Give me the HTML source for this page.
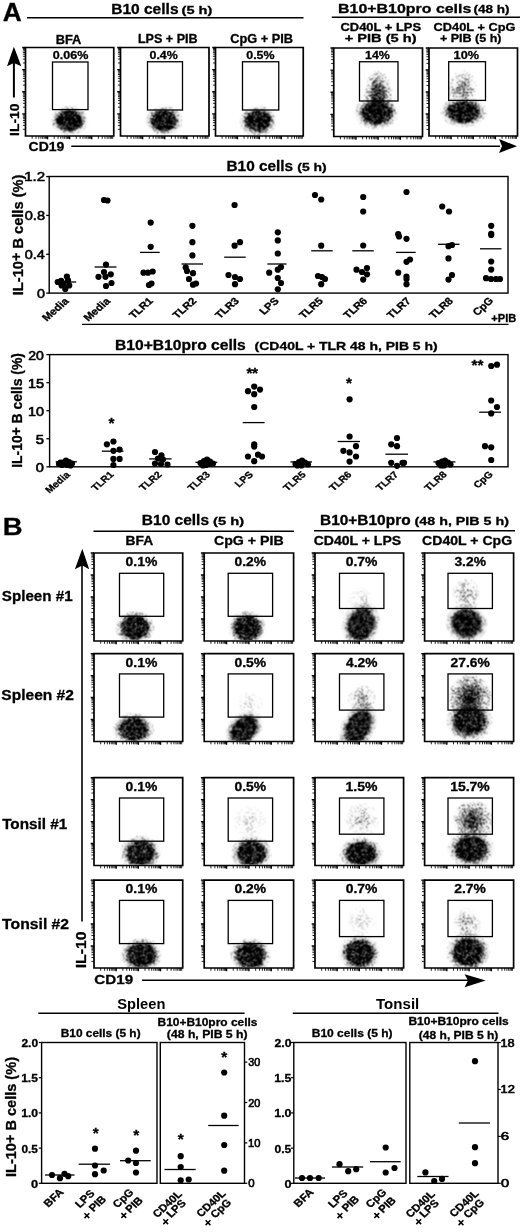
<!DOCTYPE html>
<html><head><meta charset="utf-8"><style>
html,body{margin:0;padding:0;background:#fff;width:520px;height:1232px;overflow:hidden}
svg{display:block;filter:grayscale(1)}
text{stroke:#000;stroke-width:0.3px;paint-order:stroke}
</style></head><body>
<svg width="520" height="1232" viewBox="0 0 520 1232" font-family="Liberation Sans, sans-serif"><rect width="520" height="1232" fill="#fff"/>
<text x="2.74" y="21.00" font-size="26.60" font-weight="bold" textLength="18.97" lengthAdjust="spacingAndGlyphs">A</text>
<text x="111.19" y="13.70" font-size="13.95" font-weight="bold" textLength="67.35" lengthAdjust="spacingAndGlyphs">B10 cells</text>
<text x="181.57" y="13.70" font-size="11.34" font-weight="bold" textLength="30.80" lengthAdjust="spacingAndGlyphs">(5 h)</text>
<line x1="27.00" y1="17.70" x2="303.50" y2="17.70" stroke="#000" stroke-width="1.4"/>
<text x="338.06" y="13.20" font-size="13.66" font-weight="bold" textLength="133.29" lengthAdjust="spacingAndGlyphs">B10+B10pro cells</text>
<text x="473.62" y="13.20" font-size="11.34" font-weight="bold" textLength="36.01" lengthAdjust="spacingAndGlyphs">(48 h)</text>
<line x1="331.80" y1="17.30" x2="520.00" y2="17.30" stroke="#000" stroke-width="1.4"/>
<text x="340.48" y="31.00" font-size="11.34" font-weight="bold" textLength="80.62" lengthAdjust="spacingAndGlyphs">CD40L + LPS</text>
<text x="344.72" y="42.00" font-size="11.34" font-weight="bold" textLength="71.88" lengthAdjust="spacingAndGlyphs">+ PIB (5 h)</text>
<text x="433.59" y="30.80" font-size="11.34" font-weight="bold" textLength="81.84" lengthAdjust="spacingAndGlyphs">CD40L + CpG</text>
<text x="440.00" y="42.00" font-size="11.34" font-weight="bold" textLength="61.50" lengthAdjust="spacingAndGlyphs">+ PIB (5 h)</text>
<text x="55.67" y="43.50" font-size="11.92" font-weight="bold" textLength="25.66" lengthAdjust="spacingAndGlyphs">BFA</text>
<text x="137.93" y="43.30" font-size="11.92" font-weight="bold" textLength="59.65" lengthAdjust="spacingAndGlyphs">LPS + PIB</text>
<text x="230.24" y="43.30" font-size="11.92" font-weight="bold" textLength="62.87" lengthAdjust="spacingAndGlyphs">CpG + PIB</text>
<path d="M25.50 47.50H113.75V136.00H25.50Z" fill="none" stroke="#000" stroke-width="1.7"/>
<path d="M22.20 113.88h3.3M22.20 91.75h3.3M22.20 69.62h3.3M47.56 136.00v3.3M69.62 136.00v3.3M91.69 136.00v3.3M22.20 47.50h3.3" stroke="#000" stroke-width="1.4" fill="none"/>
<path d="M22.90 129.34h2.6M22.90 125.44h2.6M22.90 122.68h2.6M22.90 120.54h2.6M22.90 118.78h2.6M22.90 117.30h2.6M22.90 116.02h2.6M22.90 114.89h2.6M22.90 107.21h2.6M22.90 103.32h2.6M22.90 100.55h2.6M22.90 98.41h2.6M22.90 96.66h2.6M22.90 95.18h2.6M22.90 93.89h2.6M22.90 92.76h2.6M22.90 85.09h2.6M22.90 81.19h2.6M22.90 78.43h2.6M22.90 76.29h2.6M22.90 74.53h2.6M22.90 73.05h2.6M22.90 71.77h2.6M22.90 70.64h2.6M22.90 62.96h2.6M22.90 59.07h2.6M22.90 56.30h2.6M22.90 54.16h2.6M22.90 52.41h2.6M22.90 50.93h2.6M22.90 49.64h2.6M22.90 48.51h2.6M32.14 136.00v2.8M36.03 136.00v2.8M38.78 136.00v2.8M40.92 136.00v2.8M42.67 136.00v2.8M44.14 136.00v2.8M45.42 136.00v2.8M46.55 136.00v2.8M54.20 136.00v2.8M58.09 136.00v2.8M60.85 136.00v2.8M62.98 136.00v2.8M64.73 136.00v2.8M66.21 136.00v2.8M67.49 136.00v2.8M68.62 136.00v2.8M76.27 136.00v2.8M80.15 136.00v2.8M82.91 136.00v2.8M85.05 136.00v2.8M86.79 136.00v2.8M88.27 136.00v2.8M89.55 136.00v2.8M90.68 136.00v2.8M98.33 136.00v2.8M102.21 136.00v2.8M104.97 136.00v2.8M107.11 136.00v2.8M108.86 136.00v2.8M110.33 136.00v2.8M111.61 136.00v2.8M112.74 136.00v2.8" stroke="#000" stroke-width="1" stroke-opacity="0.85" fill="none"/>
<rect x="52.50" y="62.00" width="35.50" height="47.60" fill="none" stroke="#000" stroke-width="1.3"/>
<text x="52.75" y="58.70" font-size="11.63" font-weight="bold" textLength="35.57" lengthAdjust="spacingAndGlyphs">0.06%</text>
<path d="M120.50 47.50H209.00V136.00H120.50Z" fill="none" stroke="#000" stroke-width="1.7"/>
<path d="M117.20 113.88h3.3M117.20 91.75h3.3M117.20 69.62h3.3M142.62 136.00v3.3M164.75 136.00v3.3M186.88 136.00v3.3M117.20 47.50h3.3" stroke="#000" stroke-width="1.4" fill="none"/>
<path d="M117.90 129.34h2.6M117.90 125.44h2.6M117.90 122.68h2.6M117.90 120.54h2.6M117.90 118.78h2.6M117.90 117.30h2.6M117.90 116.02h2.6M117.90 114.89h2.6M117.90 107.21h2.6M117.90 103.32h2.6M117.90 100.55h2.6M117.90 98.41h2.6M117.90 96.66h2.6M117.90 95.18h2.6M117.90 93.89h2.6M117.90 92.76h2.6M117.90 85.09h2.6M117.90 81.19h2.6M117.90 78.43h2.6M117.90 76.29h2.6M117.90 74.53h2.6M117.90 73.05h2.6M117.90 71.77h2.6M117.90 70.64h2.6M117.90 62.96h2.6M117.90 59.07h2.6M117.90 56.30h2.6M117.90 54.16h2.6M117.90 52.41h2.6M117.90 50.93h2.6M117.90 49.64h2.6M117.90 48.51h2.6M127.16 136.00v2.8M131.06 136.00v2.8M133.82 136.00v2.8M135.96 136.00v2.8M137.72 136.00v2.8M139.20 136.00v2.8M140.48 136.00v2.8M141.61 136.00v2.8M149.29 136.00v2.8M153.18 136.00v2.8M155.95 136.00v2.8M158.09 136.00v2.8M159.84 136.00v2.8M161.32 136.00v2.8M162.61 136.00v2.8M163.74 136.00v2.8M171.41 136.00v2.8M175.31 136.00v2.8M178.07 136.00v2.8M180.21 136.00v2.8M181.97 136.00v2.8M183.45 136.00v2.8M184.73 136.00v2.8M185.86 136.00v2.8M193.54 136.00v2.8M197.43 136.00v2.8M200.20 136.00v2.8M202.34 136.00v2.8M204.09 136.00v2.8M205.57 136.00v2.8M206.86 136.00v2.8M207.99 136.00v2.8" stroke="#000" stroke-width="1" stroke-opacity="0.85" fill="none"/>
<rect x="147.50" y="61.75" width="35.00" height="48.25" fill="none" stroke="#000" stroke-width="1.3"/>
<text x="149.50" y="58.70" font-size="11.63" font-weight="bold" textLength="28.30" lengthAdjust="spacingAndGlyphs">0.4%</text>
<path d="M215.50 47.50H303.25V136.00H215.50Z" fill="none" stroke="#000" stroke-width="1.7"/>
<path d="M212.20 113.88h3.3M212.20 91.75h3.3M212.20 69.62h3.3M237.44 136.00v3.3M259.38 136.00v3.3M281.31 136.00v3.3M212.20 47.50h3.3" stroke="#000" stroke-width="1.4" fill="none"/>
<path d="M212.90 129.34h2.6M212.90 125.44h2.6M212.90 122.68h2.6M212.90 120.54h2.6M212.90 118.78h2.6M212.90 117.30h2.6M212.90 116.02h2.6M212.90 114.89h2.6M212.90 107.21h2.6M212.90 103.32h2.6M212.90 100.55h2.6M212.90 98.41h2.6M212.90 96.66h2.6M212.90 95.18h2.6M212.90 93.89h2.6M212.90 92.76h2.6M212.90 85.09h2.6M212.90 81.19h2.6M212.90 78.43h2.6M212.90 76.29h2.6M212.90 74.53h2.6M212.90 73.05h2.6M212.90 71.77h2.6M212.90 70.64h2.6M212.90 62.96h2.6M212.90 59.07h2.6M212.90 56.30h2.6M212.90 54.16h2.6M212.90 52.41h2.6M212.90 50.93h2.6M212.90 49.64h2.6M212.90 48.51h2.6M222.10 136.00v2.8M225.97 136.00v2.8M228.71 136.00v2.8M230.83 136.00v2.8M232.57 136.00v2.8M234.04 136.00v2.8M235.31 136.00v2.8M236.43 136.00v2.8M244.04 136.00v2.8M247.90 136.00v2.8M250.65 136.00v2.8M252.77 136.00v2.8M254.51 136.00v2.8M255.98 136.00v2.8M257.25 136.00v2.8M258.37 136.00v2.8M265.98 136.00v2.8M269.84 136.00v2.8M272.58 136.00v2.8M274.71 136.00v2.8M276.45 136.00v2.8M277.91 136.00v2.8M279.19 136.00v2.8M280.31 136.00v2.8M287.92 136.00v2.8M291.78 136.00v2.8M294.52 136.00v2.8M296.65 136.00v2.8M298.38 136.00v2.8M299.85 136.00v2.8M301.12 136.00v2.8M302.25 136.00v2.8" stroke="#000" stroke-width="1" stroke-opacity="0.85" fill="none"/>
<rect x="242.50" y="61.75" width="36.25" height="48.25" fill="none" stroke="#000" stroke-width="1.3"/>
<text x="246.25" y="58.70" font-size="11.63" font-weight="bold" textLength="28.30" lengthAdjust="spacingAndGlyphs">0.5%</text>
<path d="M333.75 48.00H422.50V136.50H333.75Z" fill="none" stroke="#000" stroke-width="1.7"/>
<path d="M330.45 114.38h3.3M330.45 92.25h3.3M330.45 70.12h3.3M355.94 136.50v3.3M378.12 136.50v3.3M400.31 136.50v3.3M330.45 48.00h3.3" stroke="#000" stroke-width="1.4" fill="none"/>
<path d="M331.15 129.84h2.6M331.15 125.94h2.6M331.15 123.18h2.6M331.15 121.04h2.6M331.15 119.28h2.6M331.15 117.80h2.6M331.15 116.52h2.6M331.15 115.39h2.6M331.15 107.71h2.6M331.15 103.82h2.6M331.15 101.05h2.6M331.15 98.91h2.6M331.15 97.16h2.6M331.15 95.68h2.6M331.15 94.39h2.6M331.15 93.26h2.6M331.15 85.59h2.6M331.15 81.69h2.6M331.15 78.93h2.6M331.15 76.79h2.6M331.15 75.03h2.6M331.15 73.55h2.6M331.15 72.27h2.6M331.15 71.14h2.6M331.15 63.46h2.6M331.15 59.57h2.6M331.15 56.80h2.6M331.15 54.66h2.6M331.15 52.91h2.6M331.15 51.43h2.6M331.15 50.14h2.6M331.15 49.01h2.6M340.43 136.50v2.8M344.34 136.50v2.8M347.11 136.50v2.8M349.26 136.50v2.8M351.02 136.50v2.8M352.50 136.50v2.8M353.79 136.50v2.8M354.92 136.50v2.8M362.62 136.50v2.8M366.52 136.50v2.8M369.30 136.50v2.8M371.45 136.50v2.8M373.20 136.50v2.8M374.69 136.50v2.8M375.97 136.50v2.8M377.11 136.50v2.8M384.80 136.50v2.8M388.71 136.50v2.8M391.48 136.50v2.8M393.63 136.50v2.8M395.39 136.50v2.8M396.88 136.50v2.8M398.16 136.50v2.8M399.30 136.50v2.8M406.99 136.50v2.8M410.90 136.50v2.8M413.67 136.50v2.8M415.82 136.50v2.8M417.58 136.50v2.8M419.06 136.50v2.8M420.35 136.50v2.8M421.48 136.50v2.8" stroke="#000" stroke-width="1" stroke-opacity="0.85" fill="none"/>
<rect x="359.50" y="61.75" width="38.50" height="39.25" fill="none" stroke="#000" stroke-width="1.3"/>
<text x="365.01" y="58.70" font-size="11.63" font-weight="bold" textLength="24.82" lengthAdjust="spacingAndGlyphs">14%</text>
<path d="M429.00 48.00H517.50V136.00H429.00Z" fill="none" stroke="#000" stroke-width="1.7"/>
<path d="M425.70 114.00h3.3M425.70 92.00h3.3M425.70 70.00h3.3M451.12 136.00v3.3M473.25 136.00v3.3M495.38 136.00v3.3M425.70 48.00h3.3" stroke="#000" stroke-width="1.4" fill="none"/>
<path d="M426.40 129.38h2.6M426.40 125.50h2.6M426.40 122.75h2.6M426.40 120.62h2.6M426.40 118.88h2.6M426.40 117.41h2.6M426.40 116.13h2.6M426.40 115.01h2.6M426.40 107.38h2.6M426.40 103.50h2.6M426.40 100.75h2.6M426.40 98.62h2.6M426.40 96.88h2.6M426.40 95.41h2.6M426.40 94.13h2.6M426.40 93.01h2.6M426.40 85.38h2.6M426.40 81.50h2.6M426.40 78.75h2.6M426.40 76.62h2.6M426.40 74.88h2.6M426.40 73.41h2.6M426.40 72.13h2.6M426.40 71.01h2.6M426.40 63.38h2.6M426.40 59.50h2.6M426.40 56.75h2.6M426.40 54.62h2.6M426.40 52.88h2.6M426.40 51.41h2.6M426.40 50.13h2.6M426.40 49.01h2.6M435.66 136.00v2.8M439.56 136.00v2.8M442.32 136.00v2.8M444.46 136.00v2.8M446.22 136.00v2.8M447.70 136.00v2.8M448.98 136.00v2.8M450.11 136.00v2.8M457.79 136.00v2.8M461.68 136.00v2.8M464.45 136.00v2.8M466.59 136.00v2.8M468.34 136.00v2.8M469.82 136.00v2.8M471.11 136.00v2.8M472.24 136.00v2.8M479.91 136.00v2.8M483.81 136.00v2.8M486.57 136.00v2.8M488.71 136.00v2.8M490.47 136.00v2.8M491.95 136.00v2.8M493.23 136.00v2.8M494.36 136.00v2.8M502.04 136.00v2.8M505.93 136.00v2.8M508.70 136.00v2.8M510.84 136.00v2.8M512.59 136.00v2.8M514.07 136.00v2.8M515.36 136.00v2.8M516.49 136.00v2.8" stroke="#000" stroke-width="1" stroke-opacity="0.85" fill="none"/>
<rect x="448.70" y="61.70" width="36.80" height="38.70" fill="none" stroke="#000" stroke-width="1.3"/>
<text x="453.64" y="58.70" font-size="11.63" font-weight="bold" textLength="25.45" lengthAdjust="spacingAndGlyphs">10%</text>
<filter id="spk" x="-10%" y="-10%" width="120%" height="120%" color-interpolation-filters="sRGB">
<feTurbulence type="fractalNoise" baseFrequency="1.1" numOctaves="2" seed="4" result="n"/>
<feColorMatrix in="n" type="matrix" values="0 0 0 0 0  0 0 0 0 0  0 0 0 0 0  3 0 0 0 -1" result="na"/>
<feComposite in="SourceAlpha" in2="na" operator="arithmetic" k1="0" k2="4" k3="-4" k4="0" result="t"/>
<feComposite in="t" in2="SourceAlpha" operator="arithmetic" k1="0" k2="0.8" k3="0.3" k4="0" result="t2"/>
<feColorMatrix in="t2" type="matrix" values="0 0 0 0 0  0 0 0 0 0  0 0 0 0 0  0 0 0 1 0" result="b"/>
<feConvolveMatrix in="b" order="3" kernelMatrix="1 2 1 2 4 2 1 2 1"/>
</filter>
<filter id="spk2" x="-10%" y="-10%" width="120%" height="120%" color-interpolation-filters="sRGB">
<feTurbulence type="fractalNoise" baseFrequency="0.93" numOctaves="2" seed="9" result="n"/>
<feColorMatrix in="n" type="matrix" values="0 0 0 0 0  0 0 0 0 0  0 0 0 0 0  3 0 0 0 -1" result="na"/>
<feComposite in="SourceAlpha" in2="na" operator="arithmetic" k1="0" k2="5" k3="-5" k4="0" result="t"/>
<feComposite in="t" in2="SourceAlpha" operator="arithmetic" k1="0" k2="0.85" k3="0.15" k4="0" result="t2"/>
<feColorMatrix in="t2" type="matrix" values="0 0 0 0 0  0 0 0 0 0  0 0 0 0 0  0 0 0 1 0" result="b"/>
<feConvolveMatrix in="b" order="3" kernelMatrix="1 2 1 2 4 2 1 2 1"/>
</filter>
<radialGradient id="rg0"><stop offset="0.0" stop-opacity="1.000"/><stop offset="0.1" stop-opacity="1.000"/><stop offset="0.2" stop-opacity="1.000"/><stop offset="0.3" stop-opacity="1.000"/><stop offset="0.4" stop-opacity="1.000"/><stop offset="0.5" stop-opacity="1.000"/><stop offset="0.6" stop-opacity="1.000"/><stop offset="0.7" stop-opacity="0.606"/><stop offset="0.8" stop-opacity="0.309"/><stop offset="0.9" stop-opacity="0.144"/><stop offset="1.0" stop-opacity="0.061"/></radialGradient>
<clipPath id="c43"><rect x="26.30" y="48.30" width="86.65" height="86.90"/></clipPath>
<g clip-path="url(#c43)"><ellipse cx="69.50" cy="120.50" rx="18.70" ry="14.90" fill="url(#rg0)" filter="url(#spk)"/></g>
<clipPath id="c45"><rect x="121.30" y="48.30" width="86.90" height="86.90"/></clipPath>
<g clip-path="url(#c45)"><ellipse cx="164.00" cy="120.50" rx="18.70" ry="14.90" fill="url(#rg0)" filter="url(#spk)"/></g>
<clipPath id="c47"><rect x="216.30" y="48.30" width="86.15" height="86.90"/></clipPath>
<g clip-path="url(#c47)"><ellipse cx="258.00" cy="121.00" rx="18.70" ry="15.40" fill="url(#rg0)" filter="url(#spk)"/></g>
<radialGradient id="rg1"><stop offset="0.0" stop-opacity="1.000"/><stop offset="0.1" stop-opacity="1.000"/><stop offset="0.2" stop-opacity="0.999"/><stop offset="0.3" stop-opacity="0.886"/><stop offset="0.4" stop-opacity="0.749"/><stop offset="0.5" stop-opacity="0.604"/><stop offset="0.6" stop-opacity="0.464"/><stop offset="0.7" stop-opacity="0.339"/><stop offset="0.8" stop-opacity="0.237"/><stop offset="0.9" stop-opacity="0.157"/><stop offset="1.0" stop-opacity="0.100"/></radialGradient>
<clipPath id="c50"><rect x="334.55" y="48.80" width="87.15" height="86.90"/></clipPath>
<g clip-path="url(#c50)"><ellipse cx="378.00" cy="95.00" rx="14.00" ry="24.00" fill="url(#rg1)" filter="url(#spk2)"/></g>
<clipPath id="c52"><rect x="334.55" y="48.80" width="87.15" height="86.90"/></clipPath>
<g clip-path="url(#c52)"><ellipse cx="376.50" cy="113.00" rx="22.00" ry="16.50" fill="url(#rg0)" filter="url(#spk)"/></g>
<radialGradient id="rg2"><stop offset="0.0" stop-opacity="0.550"/><stop offset="0.1" stop-opacity="0.538"/><stop offset="0.2" stop-opacity="0.504"/><stop offset="0.3" stop-opacity="0.451"/><stop offset="0.4" stop-opacity="0.387"/><stop offset="0.5" stop-opacity="0.317"/><stop offset="0.6" stop-opacity="0.249"/><stop offset="0.7" stop-opacity="0.187"/><stop offset="0.8" stop-opacity="0.135"/><stop offset="0.9" stop-opacity="0.093"/><stop offset="1.0" stop-opacity="0.061"/></radialGradient>
<clipPath id="c55"><rect x="429.80" y="48.80" width="86.90" height="86.40"/></clipPath>
<g clip-path="url(#c55)"><ellipse cx="463.00" cy="89.00" rx="14.00" ry="19.00" fill="url(#rg2)" filter="url(#spk2)"/></g>
<clipPath id="c57"><rect x="429.80" y="48.80" width="86.90" height="86.40"/></clipPath>
<g clip-path="url(#c57)"><ellipse cx="463.50" cy="112.00" rx="23.10" ry="15.40" fill="url(#rg0)" filter="url(#spk)"/></g>
<line x1="13.90" y1="62.00" x2="13.90" y2="97.50" stroke="#000" stroke-width="2"/>
<path d="M7 66.3 L13.9 46.7 L21.3 66.3 L13.9 63 Z" fill="#000"/>
<text transform="translate(18.50,135.00) rotate(-90)" x="-0.90" y="0" font-size="13.52" font-weight="bold" textLength="32.45" lengthAdjust="spacingAndGlyphs">IL-10</text>
<text x="28.64" y="150.80" font-size="12.79" font-weight="bold" textLength="35.77" lengthAdjust="spacingAndGlyphs">CD19</text>
<line x1="71.30" y1="146.20" x2="500.00" y2="146.20" stroke="#000" stroke-width="1.6"/>
<path d="M499 139 L517 146.2 L499 153 L502 146.2 Z" fill="#000"/>
<rect x="49.20" y="176.50" width="458.80" height="116.60" fill="none" stroke="#000" stroke-width="1.4"/>
<line x1="46.20" y1="293.10" x2="49.20" y2="293.10" stroke="#000" stroke-width="1.3"/>
<text x="36.92" y="297.90" font-size="13.66" font-weight="normal" textLength="7.99" lengthAdjust="spacingAndGlyphs" style="stroke-width:0.6">0</text>
<line x1="46.20" y1="254.26" x2="49.20" y2="254.26" stroke="#000" stroke-width="1.3"/>
<text x="24.72" y="259.06" font-size="13.66" font-weight="normal" textLength="20.12" lengthAdjust="spacingAndGlyphs" style="stroke-width:0.6">0.4</text>
<line x1="46.20" y1="215.42" x2="49.20" y2="215.42" stroke="#000" stroke-width="1.3"/>
<text x="24.72" y="220.22" font-size="13.66" font-weight="normal" textLength="20.27" lengthAdjust="spacingAndGlyphs" style="stroke-width:0.6">0.8</text>
<line x1="46.20" y1="176.58" x2="49.20" y2="176.58" stroke="#000" stroke-width="1.3"/>
<text x="24.17" y="181.38" font-size="13.66" font-weight="normal" textLength="20.99" lengthAdjust="spacingAndGlyphs" style="stroke-width:0.6">1.2</text>
<text x="226.50" y="171.40" font-size="14.97" font-weight="bold" textLength="66.64" lengthAdjust="spacingAndGlyphs">B10 cells</text>
<text x="297.31" y="171.30" font-size="11.34" font-weight="bold" textLength="29.33" lengthAdjust="spacingAndGlyphs">(5 h)</text>
<text transform="translate(22.5,295.2) rotate(-90)" font-size="14.2" font-weight="bold" textLength="120.6" lengthAdjust="spacingAndGlyphs">IL-10<tspan font-size="14" dy="-1.8">+</tspan><tspan dy="1.8"> B cells (%)</tspan></text>
<circle cx="57.70" cy="282.00" r="3.1"/>
<circle cx="61.20" cy="280.80" r="3.1"/>
<circle cx="66.90" cy="276.60" r="3.1"/>
<circle cx="68.00" cy="280.30" r="3.1"/>
<circle cx="63.50" cy="283.50" r="3.1"/>
<circle cx="69.20" cy="285.40" r="3.1"/>
<circle cx="65.30" cy="288.90" r="3.1"/>
<circle cx="61.60" cy="285.40" r="3.1"/>
<line x1="55.40" y1="282.00" x2="76.20" y2="282.00" stroke="#000" stroke-width="1.3"/>
<circle cx="104.00" cy="200.00" r="3.1"/>
<circle cx="107.50" cy="200.50" r="3.1"/>
<circle cx="106.00" cy="264.60" r="3.1"/>
<circle cx="98.50" cy="276.80" r="3.1"/>
<circle cx="105.50" cy="276.80" r="3.1"/>
<circle cx="110.80" cy="274.30" r="3.1"/>
<circle cx="111.50" cy="283.00" r="3.1"/>
<circle cx="106.00" cy="286.00" r="3.1"/>
<circle cx="104.00" cy="272.00" r="3.1"/>
<line x1="94.60" y1="267.00" x2="116.50" y2="267.00" stroke="#000" stroke-width="1.3"/>
<circle cx="150.70" cy="222.60" r="3.1"/>
<circle cx="150.70" cy="246.80" r="3.1"/>
<circle cx="143.50" cy="272.70" r="3.1"/>
<circle cx="148.00" cy="272.70" r="3.1"/>
<circle cx="152.70" cy="271.50" r="3.1"/>
<circle cx="151.50" cy="283.50" r="3.1"/>
<circle cx="149.00" cy="285.00" r="3.1"/>
<line x1="140.00" y1="252.40" x2="159.70" y2="252.40" stroke="#000" stroke-width="1.3"/>
<circle cx="192.40" cy="225.80" r="3.1"/>
<circle cx="192.40" cy="242.20" r="3.1"/>
<circle cx="192.40" cy="255.40" r="3.1"/>
<circle cx="185.70" cy="267.40" r="3.1"/>
<circle cx="187.00" cy="271.00" r="3.1"/>
<circle cx="193.00" cy="273.20" r="3.1"/>
<circle cx="189.00" cy="279.00" r="3.1"/>
<circle cx="193.00" cy="284.70" r="3.1"/>
<circle cx="196.00" cy="283.50" r="3.1"/>
<line x1="181.50" y1="264.00" x2="203.00" y2="264.00" stroke="#000" stroke-width="1.3"/>
<circle cx="234.60" cy="205.00" r="3.1"/>
<circle cx="240.00" cy="242.20" r="3.1"/>
<circle cx="234.60" cy="245.70" r="3.1"/>
<circle cx="228.50" cy="275.00" r="3.1"/>
<circle cx="235.00" cy="277.00" r="3.1"/>
<circle cx="240.00" cy="279.00" r="3.1"/>
<circle cx="235.00" cy="284.20" r="3.1"/>
<line x1="224.20" y1="257.20" x2="245.70" y2="257.20" stroke="#000" stroke-width="1.3"/>
<circle cx="277.80" cy="232.30" r="3.1"/>
<circle cx="277.80" cy="240.40" r="3.1"/>
<circle cx="277.80" cy="253.50" r="3.1"/>
<circle cx="269.20" cy="272.70" r="3.1"/>
<circle cx="277.80" cy="269.70" r="3.1"/>
<circle cx="281.00" cy="267.00" r="3.1"/>
<circle cx="277.80" cy="278.00" r="3.1"/>
<circle cx="281.00" cy="283.00" r="3.1"/>
<circle cx="277.80" cy="289.30" r="3.1"/>
<line x1="267.40" y1="264.00" x2="286.50" y2="264.00" stroke="#000" stroke-width="1.3"/>
<circle cx="315.00" cy="195.00" r="3.1"/>
<circle cx="321.20" cy="199.50" r="3.1"/>
<circle cx="321.20" cy="245.70" r="3.1"/>
<circle cx="318.00" cy="276.00" r="3.1"/>
<circle cx="322.00" cy="277.00" r="3.1"/>
<circle cx="325.00" cy="279.00" r="3.1"/>
<circle cx="321.20" cy="284.20" r="3.1"/>
<line x1="311.20" y1="250.80" x2="332.70" y2="250.80" stroke="#000" stroke-width="1.3"/>
<circle cx="363.20" cy="197.00" r="3.1"/>
<circle cx="363.20" cy="211.50" r="3.1"/>
<circle cx="363.20" cy="245.50" r="3.1"/>
<circle cx="356.50" cy="269.70" r="3.1"/>
<circle cx="362.00" cy="272.00" r="3.1"/>
<circle cx="367.00" cy="268.00" r="3.1"/>
<circle cx="367.00" cy="274.30" r="3.1"/>
<circle cx="363.20" cy="279.60" r="3.1"/>
<line x1="352.30" y1="250.80" x2="373.80" y2="250.80" stroke="#000" stroke-width="1.3"/>
<circle cx="406.50" cy="192.00" r="3.1"/>
<circle cx="398.20" cy="234.20" r="3.1"/>
<circle cx="399.00" cy="236.50" r="3.1"/>
<circle cx="406.50" cy="238.80" r="3.1"/>
<circle cx="406.50" cy="261.80" r="3.1"/>
<circle cx="410.00" cy="259.50" r="3.1"/>
<circle cx="398.20" cy="272.70" r="3.1"/>
<circle cx="406.50" cy="276.60" r="3.1"/>
<circle cx="406.50" cy="279.00" r="3.1"/>
<circle cx="406.50" cy="284.20" r="3.1"/>
<line x1="396.00" y1="252.40" x2="415.70" y2="252.40" stroke="#000" stroke-width="1.3"/>
<circle cx="442.20" cy="206.50" r="3.1"/>
<circle cx="449.00" cy="211.50" r="3.1"/>
<circle cx="448.50" cy="246.20" r="3.1"/>
<circle cx="452.00" cy="245.00" r="3.1"/>
<circle cx="448.50" cy="258.40" r="3.1"/>
<circle cx="452.00" cy="275.00" r="3.1"/>
<circle cx="448.50" cy="279.60" r="3.1"/>
<line x1="438.00" y1="244.30" x2="459.50" y2="244.30" stroke="#000" stroke-width="1.3"/>
<circle cx="491.20" cy="225.80" r="3.1"/>
<circle cx="491.20" cy="233.80" r="3.1"/>
<circle cx="491.20" cy="235.00" r="3.1"/>
<circle cx="491.20" cy="261.50" r="3.1"/>
<circle cx="491.20" cy="269.60" r="3.1"/>
<circle cx="486.00" cy="278.20" r="3.1"/>
<circle cx="491.00" cy="279.00" r="3.1"/>
<circle cx="496.00" cy="279.00" r="3.1"/>
<circle cx="500.00" cy="279.00" r="3.1"/>
<line x1="480.00" y1="248.80" x2="501.50" y2="248.80" stroke="#000" stroke-width="1.3"/>
<text transform="translate(69.40,301.75) scale(1.13,1) rotate(-45)" x="-28.45" y="0" font-size="10.00" font-weight="bold" textLength="28.34" lengthAdjust="spacingAndGlyphs">Media</text>
<text transform="translate(110.90,301.75) scale(1.13,1) rotate(-45)" x="-28.45" y="0" font-size="10.00" font-weight="bold" textLength="28.34" lengthAdjust="spacingAndGlyphs">Media</text>
<text transform="translate(153.50,301.75) scale(1.13,1) rotate(-45)" x="-24.75" y="0" font-size="10.00" font-weight="bold" textLength="25.00" lengthAdjust="spacingAndGlyphs">TLR1</text>
<text transform="translate(196.80,301.75) scale(1.13,1) rotate(-45)" x="-24.60" y="0" font-size="10.00" font-weight="bold" textLength="25.00" lengthAdjust="spacingAndGlyphs">TLR2</text>
<text transform="translate(239.40,301.75) scale(1.13,1) rotate(-45)" x="-24.65" y="0" font-size="10.00" font-weight="bold" textLength="25.00" lengthAdjust="spacingAndGlyphs">TLR3</text>
<text transform="translate(279.20,301.75) scale(1.13,1) rotate(-45)" x="-19.10" y="0" font-size="10.00" font-weight="bold" textLength="19.45" lengthAdjust="spacingAndGlyphs">LPS</text>
<text transform="translate(323.50,301.75) scale(1.13,1) rotate(-45)" x="-24.75" y="0" font-size="10.00" font-weight="bold" textLength="25.00" lengthAdjust="spacingAndGlyphs">TLR5</text>
<text transform="translate(367.70,301.75) scale(1.13,1) rotate(-45)" x="-24.65" y="0" font-size="10.00" font-weight="bold" textLength="25.00" lengthAdjust="spacingAndGlyphs">TLR6</text>
<text transform="translate(411.20,301.75) scale(1.13,1) rotate(-45)" x="-24.60" y="0" font-size="10.00" font-weight="bold" textLength="25.00" lengthAdjust="spacingAndGlyphs">TLR7</text>
<text transform="translate(453.40,301.75) scale(1.13,1) rotate(-45)" x="-24.70" y="0" font-size="10.00" font-weight="bold" textLength="25.00" lengthAdjust="spacingAndGlyphs">TLR8</text>
<text transform="translate(493.50,301.75) scale(1.13,1) rotate(-45)" x="-20.50" y="0" font-size="10.00" font-weight="bold" textLength="21.11" lengthAdjust="spacingAndGlyphs">CpG</text>
<line x1="82.00" y1="324.30" x2="508.50" y2="324.30" stroke="#000" stroke-width="1.3"/>
<text x="491.36" y="321.50" font-size="10.17" font-weight="bold" textLength="24.95" lengthAdjust="spacingAndGlyphs">+PIB</text>
<rect x="49.60" y="354.60" width="458.40" height="112.20" fill="none" stroke="#000" stroke-width="1.4"/>
<line x1="46.40" y1="466.80" x2="49.60" y2="466.80" stroke="#000" stroke-width="1.3"/>
<text x="35.82" y="472.40" font-size="12.50" font-weight="normal" textLength="8.11" lengthAdjust="spacingAndGlyphs" style="stroke-width:0.6">0</text>
<line x1="46.40" y1="438.75" x2="49.60" y2="438.75" stroke="#000" stroke-width="1.3"/>
<text x="35.81" y="444.35" font-size="12.50" font-weight="normal" textLength="8.20" lengthAdjust="spacingAndGlyphs" style="stroke-width:0.6">5</text>
<line x1="46.40" y1="410.70" x2="49.60" y2="410.70" stroke="#000" stroke-width="1.3"/>
<text x="27.92" y="416.30" font-size="12.50" font-weight="normal" textLength="16.02" lengthAdjust="spacingAndGlyphs" style="stroke-width:0.6">10</text>
<line x1="46.40" y1="382.65" x2="49.60" y2="382.65" stroke="#000" stroke-width="1.3"/>
<text x="27.91" y="388.25" font-size="12.50" font-weight="normal" textLength="16.10" lengthAdjust="spacingAndGlyphs" style="stroke-width:0.6">15</text>
<line x1="46.40" y1="354.60" x2="49.60" y2="354.60" stroke="#000" stroke-width="1.3"/>
<text x="28.30" y="360.20" font-size="12.50" font-weight="normal" textLength="15.63" lengthAdjust="spacingAndGlyphs" style="stroke-width:0.6">20</text>
<text x="114.98" y="350.00" font-size="14.53" font-weight="bold" textLength="130.86" lengthAdjust="spacingAndGlyphs">B10+B10pro cells</text>
<text x="254.60" y="350.00" font-size="11.34" font-weight="bold" textLength="183.07" lengthAdjust="spacingAndGlyphs">(CD40L + TLR 48 h, PIB 5 h)</text>
<text transform="translate(22.4,467.8) rotate(-90)" font-size="14.2" font-weight="bold" textLength="114.8" lengthAdjust="spacingAndGlyphs">IL-10<tspan font-size="14" dy="-1.8">+</tspan><tspan dy="1.8"> B cells (%)</tspan></text>
<circle cx="59.00" cy="464.00" r="3.1"/>
<circle cx="63.00" cy="462.50" r="3.1"/>
<circle cx="66.00" cy="460.50" r="3.1"/>
<circle cx="69.00" cy="462.00" r="3.1"/>
<circle cx="72.00" cy="463.50" r="3.1"/>
<circle cx="62.00" cy="465.00" r="3.1"/>
<circle cx="67.00" cy="465.00" r="3.1"/>
<circle cx="70.50" cy="465.50" r="3.1"/>
<circle cx="60.50" cy="462.50" r="3.1"/>
<line x1="55.70" y1="461.80" x2="76.90" y2="461.80" stroke="#000" stroke-width="1.3"/>
<circle cx="106.90" cy="444.30" r="3.1"/>
<circle cx="113.40" cy="441.50" r="3.1"/>
<circle cx="113.40" cy="450.80" r="3.1"/>
<circle cx="119.60" cy="449.60" r="3.1"/>
<circle cx="113.40" cy="458.90" r="3.1"/>
<circle cx="119.60" cy="458.90" r="3.1"/>
<circle cx="113.40" cy="465.00" r="3.1"/>
<line x1="101.80" y1="451.20" x2="123.50" y2="451.20" stroke="#000" stroke-width="1.3"/>
<circle cx="155.00" cy="452.00" r="3.1"/>
<circle cx="161.50" cy="455.40" r="3.1"/>
<circle cx="158.00" cy="458.50" r="3.1"/>
<circle cx="163.00" cy="459.50" r="3.1"/>
<circle cx="155.00" cy="463.50" r="3.1"/>
<circle cx="161.00" cy="464.00" r="3.1"/>
<circle cx="167.50" cy="464.50" r="3.1"/>
<line x1="149.20" y1="458.90" x2="171.60" y2="458.90" stroke="#000" stroke-width="1.3"/>
<circle cx="200.50" cy="463.00" r="3.1"/>
<circle cx="204.00" cy="461.00" r="3.1"/>
<circle cx="207.00" cy="459.50" r="3.1"/>
<circle cx="210.00" cy="461.50" r="3.1"/>
<circle cx="213.00" cy="463.50" r="3.1"/>
<circle cx="206.00" cy="465.00" r="3.1"/>
<circle cx="203.00" cy="465.50" r="3.1"/>
<circle cx="209.50" cy="464.00" r="3.1"/>
<line x1="195.40" y1="462.30" x2="217.30" y2="462.30" stroke="#000" stroke-width="1.3"/>
<circle cx="248.00" cy="391.20" r="3.1"/>
<circle cx="254.20" cy="386.60" r="3.1"/>
<circle cx="254.20" cy="394.20" r="3.1"/>
<circle cx="260.00" cy="389.60" r="3.1"/>
<circle cx="254.20" cy="407.00" r="3.1"/>
<circle cx="254.20" cy="444.30" r="3.1"/>
<circle cx="254.20" cy="446.60" r="3.1"/>
<circle cx="248.00" cy="456.50" r="3.1"/>
<circle cx="254.20" cy="461.20" r="3.1"/>
<circle cx="258.00" cy="454.70" r="3.1"/>
<circle cx="262.00" cy="456.50" r="3.1"/>
<line x1="242.70" y1="422.60" x2="264.60" y2="422.60" stroke="#000" stroke-width="1.3"/>
<circle cx="295.50" cy="464.00" r="3.1"/>
<circle cx="299.00" cy="462.00" r="3.1"/>
<circle cx="302.00" cy="460.50" r="3.1"/>
<circle cx="305.00" cy="462.50" r="3.1"/>
<circle cx="308.00" cy="464.50" r="3.1"/>
<circle cx="301.50" cy="465.50" r="3.1"/>
<circle cx="297.50" cy="465.50" r="3.1"/>
<line x1="290.50" y1="461.90" x2="312.00" y2="461.90" stroke="#000" stroke-width="1.3"/>
<circle cx="349.60" cy="399.30" r="3.1"/>
<circle cx="349.60" cy="436.50" r="3.1"/>
<circle cx="343.40" cy="450.80" r="3.1"/>
<circle cx="349.60" cy="452.40" r="3.1"/>
<circle cx="356.00" cy="446.20" r="3.1"/>
<circle cx="356.00" cy="456.50" r="3.1"/>
<circle cx="349.60" cy="461.60" r="3.1"/>
<line x1="337.60" y1="441.50" x2="360.00" y2="441.50" stroke="#000" stroke-width="1.3"/>
<circle cx="397.00" cy="438.00" r="3.1"/>
<circle cx="391.20" cy="444.30" r="3.1"/>
<circle cx="397.00" cy="446.20" r="3.1"/>
<circle cx="391.20" cy="462.80" r="3.1"/>
<circle cx="397.00" cy="465.80" r="3.1"/>
<circle cx="402.50" cy="462.80" r="3.1"/>
<circle cx="404.00" cy="462.80" r="3.1"/>
<line x1="385.40" y1="454.20" x2="408.00" y2="454.20" stroke="#000" stroke-width="1.3"/>
<circle cx="438.50" cy="463.00" r="3.1"/>
<circle cx="442.00" cy="461.50" r="3.1"/>
<circle cx="445.00" cy="460.50" r="3.1"/>
<circle cx="448.00" cy="462.50" r="3.1"/>
<circle cx="450.50" cy="464.50" r="3.1"/>
<circle cx="444.00" cy="465.50" r="3.1"/>
<circle cx="441.00" cy="465.50" r="3.1"/>
<line x1="433.50" y1="461.90" x2="455.40" y2="461.90" stroke="#000" stroke-width="1.3"/>
<circle cx="491.20" cy="366.00" r="3.1"/>
<circle cx="497.00" cy="364.70" r="3.1"/>
<circle cx="491.20" cy="400.50" r="3.1"/>
<circle cx="497.00" cy="407.00" r="3.1"/>
<circle cx="491.20" cy="413.40" r="3.1"/>
<circle cx="485.00" cy="446.20" r="3.1"/>
<circle cx="491.20" cy="447.30" r="3.1"/>
<circle cx="491.20" cy="460.00" r="3.1"/>
<line x1="479.20" y1="412.20" x2="501.00" y2="412.20" stroke="#000" stroke-width="1.3"/>
<text transform="translate(70.70,475.35) scale(1.15,1) rotate(-45)" x="-26.17" y="0" font-size="9.20" font-weight="bold" textLength="26.07" lengthAdjust="spacingAndGlyphs">Media</text>
<text transform="translate(114.20,475.35) scale(1.15,1) rotate(-45)" x="-22.77" y="0" font-size="9.20" font-weight="bold" textLength="23.00" lengthAdjust="spacingAndGlyphs">TLR1</text>
<text transform="translate(162.00,475.35) scale(1.15,1) rotate(-45)" x="-22.63" y="0" font-size="9.20" font-weight="bold" textLength="23.00" lengthAdjust="spacingAndGlyphs">TLR2</text>
<text transform="translate(210.40,475.35) scale(1.15,1) rotate(-45)" x="-22.68" y="0" font-size="9.20" font-weight="bold" textLength="23.00" lengthAdjust="spacingAndGlyphs">TLR3</text>
<text transform="translate(253.40,475.35) scale(1.15,1) rotate(-45)" x="-17.57" y="0" font-size="9.20" font-weight="bold" textLength="17.89" lengthAdjust="spacingAndGlyphs">LPS</text>
<text transform="translate(306.10,475.35) scale(1.15,1) rotate(-45)" x="-22.77" y="0" font-size="9.20" font-weight="bold" textLength="23.00" lengthAdjust="spacingAndGlyphs">TLR5</text>
<text transform="translate(352.00,475.35) scale(1.15,1) rotate(-45)" x="-22.68" y="0" font-size="9.20" font-weight="bold" textLength="23.00" lengthAdjust="spacingAndGlyphs">TLR6</text>
<text transform="translate(398.70,475.35) scale(1.15,1) rotate(-45)" x="-22.63" y="0" font-size="9.20" font-weight="bold" textLength="23.00" lengthAdjust="spacingAndGlyphs">TLR7</text>
<text transform="translate(447.20,475.35) scale(1.15,1) rotate(-45)" x="-22.72" y="0" font-size="9.20" font-weight="bold" textLength="23.00" lengthAdjust="spacingAndGlyphs">TLR8</text>
<text transform="translate(493.00,475.35) scale(1.15,1) rotate(-45)" x="-18.86" y="0" font-size="9.20" font-weight="bold" textLength="19.42" lengthAdjust="spacingAndGlyphs">CpG</text>
<text x="111.50" y="427.85" font-size="15.40" font-weight="bold" text-anchor="middle">*</text>
<text x="249.50" y="377.85" font-size="15.40" font-weight="bold" text-anchor="middle">*</text>
<text x="255.00" y="377.85" font-size="15.40" font-weight="bold" text-anchor="middle">*</text>
<text x="349.00" y="388.15" font-size="15.40" font-weight="bold" text-anchor="middle">*</text>
<text x="474.50" y="369.65" font-size="15.40" font-weight="bold" text-anchor="middle">*</text>
<text x="480.50" y="369.65" font-size="15.40" font-weight="bold" text-anchor="middle">*</text>
<text x="2.72" y="535.00" font-size="24.71" font-weight="bold" textLength="19.83" lengthAdjust="spacingAndGlyphs">B</text>
<text x="141.89" y="525.20" font-size="14.53" font-weight="bold" textLength="67.15" lengthAdjust="spacingAndGlyphs">B10 cells</text>
<text x="213.07" y="525.20" font-size="11.63" font-weight="bold" textLength="31.01" lengthAdjust="spacingAndGlyphs">(5 h)</text>
<line x1="93.50" y1="531.20" x2="294.00" y2="531.20" stroke="#000" stroke-width="1.4"/>
<text x="320.00" y="524.70" font-size="13.95" font-weight="bold" textLength="90.61" lengthAdjust="spacingAndGlyphs">B10+B10pro</text>
<text x="414.59" y="524.90" font-size="11.63" font-weight="bold" textLength="94.39" lengthAdjust="spacingAndGlyphs">(48 h, PIB 5 h)</text>
<line x1="314.00" y1="530.70" x2="515.00" y2="530.70" stroke="#000" stroke-width="1.4"/>
<text x="125.60" y="544.80" font-size="12.21" font-weight="bold" textLength="27.54" lengthAdjust="spacingAndGlyphs">BFA</text>
<text x="213.93" y="544.80" font-size="12.21" font-weight="bold" textLength="69.74" lengthAdjust="spacingAndGlyphs">CpG + PIB</text>
<text x="313.74" y="544.80" font-size="12.21" font-weight="bold" textLength="87.41" lengthAdjust="spacingAndGlyphs">CD40L + LPS</text>
<text x="422.14" y="544.80" font-size="12.21" font-weight="bold" textLength="89.98" lengthAdjust="spacingAndGlyphs">CD40L + CpG</text>
<text x="1.84" y="601.20" font-size="15.26" font-weight="bold" textLength="70.82" lengthAdjust="spacingAndGlyphs">Spleen #1</text>
<text x="1.33" y="700.00" font-size="15.26" font-weight="bold" textLength="72.57" lengthAdjust="spacingAndGlyphs">Spleen #2</text>
<text x="2.15" y="829.20" font-size="15.26" font-weight="bold" textLength="65.24" lengthAdjust="spacingAndGlyphs">Tonsil #1</text>
<text x="2.14" y="929.20" font-size="15.26" font-weight="bold" textLength="66.99" lengthAdjust="spacingAndGlyphs">Tonsil #2</text>
<path d="M94.00 553.00H182.70V641.00H94.00Z" fill="none" stroke="#000" stroke-width="1.7"/>
<path d="M90.70 619.00h3.3M90.70 597.00h3.3M90.70 575.00h3.3M116.17 641.00v3.3M138.35 641.00v3.3M160.52 641.00v3.3M90.70 553.00h3.3" stroke="#000" stroke-width="1.4" fill="none"/>
<path d="M91.40 634.38h2.6M91.40 630.50h2.6M91.40 627.75h2.6M91.40 625.62h2.6M91.40 623.88h2.6M91.40 622.41h2.6M91.40 621.13h2.6M91.40 620.01h2.6M91.40 612.38h2.6M91.40 608.50h2.6M91.40 605.75h2.6M91.40 603.62h2.6M91.40 601.88h2.6M91.40 600.41h2.6M91.40 599.13h2.6M91.40 598.01h2.6M91.40 590.38h2.6M91.40 586.50h2.6M91.40 583.75h2.6M91.40 581.62h2.6M91.40 579.88h2.6M91.40 578.41h2.6M91.40 577.13h2.6M91.40 576.01h2.6M91.40 568.38h2.6M91.40 564.50h2.6M91.40 561.75h2.6M91.40 559.62h2.6M91.40 557.88h2.6M91.40 556.41h2.6M91.40 555.13h2.6M91.40 554.01h2.6M100.68 641.00v2.8M104.58 641.00v2.8M107.35 641.00v2.8M109.50 641.00v2.8M111.26 641.00v2.8M112.74 641.00v2.8M114.03 641.00v2.8M115.16 641.00v2.8M122.85 641.00v2.8M126.76 641.00v2.8M129.53 641.00v2.8M131.67 641.00v2.8M133.43 641.00v2.8M134.92 641.00v2.8M136.20 641.00v2.8M137.34 641.00v2.8M145.03 641.00v2.8M148.93 641.00v2.8M151.70 641.00v2.8M153.85 641.00v2.8M155.61 641.00v2.8M157.09 641.00v2.8M158.38 641.00v2.8M159.51 641.00v2.8M167.20 641.00v2.8M171.11 641.00v2.8M173.88 641.00v2.8M176.02 641.00v2.8M177.78 641.00v2.8M179.27 641.00v2.8M180.55 641.00v2.8M181.69 641.00v2.8" stroke="#000" stroke-width="1" stroke-opacity="0.85" fill="none"/>
<rect x="119.50" y="573.30" width="44.20" height="43.00" fill="none" stroke="#000" stroke-width="1.3"/>
<text x="125.64" y="566.30" font-size="12.79" font-weight="bold" textLength="31.69" lengthAdjust="spacingAndGlyphs">0.1%</text>
<path d="M204.20 553.00H293.60V641.00H204.20Z" fill="none" stroke="#000" stroke-width="1.7"/>
<path d="M200.90 619.00h3.3M200.90 597.00h3.3M200.90 575.00h3.3M226.55 641.00v3.3M248.90 641.00v3.3M271.25 641.00v3.3M200.90 553.00h3.3" stroke="#000" stroke-width="1.4" fill="none"/>
<path d="M201.60 634.38h2.6M201.60 630.50h2.6M201.60 627.75h2.6M201.60 625.62h2.6M201.60 623.88h2.6M201.60 622.41h2.6M201.60 621.13h2.6M201.60 620.01h2.6M201.60 612.38h2.6M201.60 608.50h2.6M201.60 605.75h2.6M201.60 603.62h2.6M201.60 601.88h2.6M201.60 600.41h2.6M201.60 599.13h2.6M201.60 598.01h2.6M201.60 590.38h2.6M201.60 586.50h2.6M201.60 583.75h2.6M201.60 581.62h2.6M201.60 579.88h2.6M201.60 578.41h2.6M201.60 577.13h2.6M201.60 576.01h2.6M201.60 568.38h2.6M201.60 564.50h2.6M201.60 561.75h2.6M201.60 559.62h2.6M201.60 557.88h2.6M201.60 556.41h2.6M201.60 555.13h2.6M201.60 554.01h2.6M210.93 641.00v2.8M214.86 641.00v2.8M217.66 641.00v2.8M219.82 641.00v2.8M221.59 641.00v2.8M223.09 641.00v2.8M224.38 641.00v2.8M225.53 641.00v2.8M233.28 641.00v2.8M237.21 641.00v2.8M240.01 641.00v2.8M242.17 641.00v2.8M243.94 641.00v2.8M245.44 641.00v2.8M246.73 641.00v2.8M247.88 641.00v2.8M255.63 641.00v2.8M259.56 641.00v2.8M262.36 641.00v2.8M264.52 641.00v2.8M266.29 641.00v2.8M267.79 641.00v2.8M269.08 641.00v2.8M270.23 641.00v2.8M277.98 641.00v2.8M281.91 641.00v2.8M284.71 641.00v2.8M286.87 641.00v2.8M288.64 641.00v2.8M290.14 641.00v2.8M291.43 641.00v2.8M292.58 641.00v2.8" stroke="#000" stroke-width="1" stroke-opacity="0.85" fill="none"/>
<rect x="228.20" y="573.30" width="44.40" height="43.00" fill="none" stroke="#000" stroke-width="1.3"/>
<text x="234.44" y="566.30" font-size="12.79" font-weight="bold" textLength="31.69" lengthAdjust="spacingAndGlyphs">0.2%</text>
<path d="M315.00 553.00H403.60V641.00H315.00Z" fill="none" stroke="#000" stroke-width="1.7"/>
<path d="M311.70 619.00h3.3M311.70 597.00h3.3M311.70 575.00h3.3M337.15 641.00v3.3M359.30 641.00v3.3M381.45 641.00v3.3M311.70 553.00h3.3" stroke="#000" stroke-width="1.4" fill="none"/>
<path d="M312.40 634.38h2.6M312.40 630.50h2.6M312.40 627.75h2.6M312.40 625.62h2.6M312.40 623.88h2.6M312.40 622.41h2.6M312.40 621.13h2.6M312.40 620.01h2.6M312.40 612.38h2.6M312.40 608.50h2.6M312.40 605.75h2.6M312.40 603.62h2.6M312.40 601.88h2.6M312.40 600.41h2.6M312.40 599.13h2.6M312.40 598.01h2.6M312.40 590.38h2.6M312.40 586.50h2.6M312.40 583.75h2.6M312.40 581.62h2.6M312.40 579.88h2.6M312.40 578.41h2.6M312.40 577.13h2.6M312.40 576.01h2.6M312.40 568.38h2.6M312.40 564.50h2.6M312.40 561.75h2.6M312.40 559.62h2.6M312.40 557.88h2.6M312.40 556.41h2.6M312.40 555.13h2.6M312.40 554.01h2.6M321.67 641.00v2.8M325.57 641.00v2.8M328.34 641.00v2.8M330.48 641.00v2.8M332.24 641.00v2.8M333.72 641.00v2.8M335.00 641.00v2.8M336.14 641.00v2.8M343.82 641.00v2.8M347.72 641.00v2.8M350.49 641.00v2.8M352.63 641.00v2.8M354.39 641.00v2.8M355.87 641.00v2.8M357.15 641.00v2.8M358.29 641.00v2.8M365.97 641.00v2.8M369.87 641.00v2.8M372.64 641.00v2.8M374.78 641.00v2.8M376.54 641.00v2.8M378.02 641.00v2.8M379.30 641.00v2.8M380.44 641.00v2.8M388.12 641.00v2.8M392.02 641.00v2.8M394.79 641.00v2.8M396.93 641.00v2.8M398.69 641.00v2.8M400.17 641.00v2.8M401.45 641.00v2.8M402.59 641.00v2.8" stroke="#000" stroke-width="1" stroke-opacity="0.85" fill="none"/>
<rect x="339.50" y="573.30" width="44.40" height="35.20" fill="none" stroke="#000" stroke-width="1.3"/>
<text x="345.74" y="566.30" font-size="12.79" font-weight="bold" textLength="31.69" lengthAdjust="spacingAndGlyphs">0.7%</text>
<path d="M424.60 553.00H513.60V641.00H424.60Z" fill="none" stroke="#000" stroke-width="1.7"/>
<path d="M421.30 619.00h3.3M421.30 597.00h3.3M421.30 575.00h3.3M446.85 641.00v3.3M469.10 641.00v3.3M491.35 641.00v3.3M421.30 553.00h3.3" stroke="#000" stroke-width="1.4" fill="none"/>
<path d="M422.00 634.38h2.6M422.00 630.50h2.6M422.00 627.75h2.6M422.00 625.62h2.6M422.00 623.88h2.6M422.00 622.41h2.6M422.00 621.13h2.6M422.00 620.01h2.6M422.00 612.38h2.6M422.00 608.50h2.6M422.00 605.75h2.6M422.00 603.62h2.6M422.00 601.88h2.6M422.00 600.41h2.6M422.00 599.13h2.6M422.00 598.01h2.6M422.00 590.38h2.6M422.00 586.50h2.6M422.00 583.75h2.6M422.00 581.62h2.6M422.00 579.88h2.6M422.00 578.41h2.6M422.00 577.13h2.6M422.00 576.01h2.6M422.00 568.38h2.6M422.00 564.50h2.6M422.00 561.75h2.6M422.00 559.62h2.6M422.00 557.88h2.6M422.00 556.41h2.6M422.00 555.13h2.6M422.00 554.01h2.6M431.30 641.00v2.8M435.22 641.00v2.8M438.00 641.00v2.8M440.15 641.00v2.8M441.91 641.00v2.8M443.40 641.00v2.8M444.69 641.00v2.8M445.83 641.00v2.8M453.55 641.00v2.8M457.47 641.00v2.8M460.25 641.00v2.8M462.40 641.00v2.8M464.16 641.00v2.8M465.65 641.00v2.8M466.94 641.00v2.8M468.08 641.00v2.8M475.80 641.00v2.8M479.72 641.00v2.8M482.50 641.00v2.8M484.65 641.00v2.8M486.41 641.00v2.8M487.90 641.00v2.8M489.19 641.00v2.8M490.33 641.00v2.8M498.05 641.00v2.8M501.97 641.00v2.8M504.75 641.00v2.8M506.90 641.00v2.8M508.66 641.00v2.8M510.15 641.00v2.8M511.44 641.00v2.8M512.58 641.00v2.8" stroke="#000" stroke-width="1" stroke-opacity="0.85" fill="none"/>
<rect x="448.00" y="573.30" width="44.40" height="35.20" fill="none" stroke="#000" stroke-width="1.3"/>
<text x="454.45" y="566.30" font-size="12.79" font-weight="bold" textLength="31.48" lengthAdjust="spacingAndGlyphs">3.2%</text>
<path d="M94.00 653.60H182.70V741.50H94.00Z" fill="none" stroke="#000" stroke-width="1.7"/>
<path d="M90.70 719.52h3.3M90.70 697.55h3.3M90.70 675.58h3.3M116.17 741.50v3.3M138.35 741.50v3.3M160.52 741.50v3.3M90.70 653.60h3.3" stroke="#000" stroke-width="1.4" fill="none"/>
<path d="M91.40 734.88h2.6M91.40 731.02h2.6M91.40 728.27h2.6M91.40 726.14h2.6M91.40 724.40h2.6M91.40 722.93h2.6M91.40 721.65h2.6M91.40 720.53h2.6M91.40 712.91h2.6M91.40 709.04h2.6M91.40 706.29h2.6M91.40 704.17h2.6M91.40 702.43h2.6M91.40 700.95h2.6M91.40 699.68h2.6M91.40 698.56h2.6M91.40 690.93h2.6M91.40 687.07h2.6M91.40 684.32h2.6M91.40 682.19h2.6M91.40 680.45h2.6M91.40 678.98h2.6M91.40 677.70h2.6M91.40 676.58h2.6M91.40 668.96h2.6M91.40 665.09h2.6M91.40 662.34h2.6M91.40 660.22h2.6M91.40 658.48h2.6M91.40 657.00h2.6M91.40 655.73h2.6M91.40 654.61h2.6M100.68 741.50v2.8M104.58 741.50v2.8M107.35 741.50v2.8M109.50 741.50v2.8M111.26 741.50v2.8M112.74 741.50v2.8M114.03 741.50v2.8M115.16 741.50v2.8M122.85 741.50v2.8M126.76 741.50v2.8M129.53 741.50v2.8M131.67 741.50v2.8M133.43 741.50v2.8M134.92 741.50v2.8M136.20 741.50v2.8M137.34 741.50v2.8M145.03 741.50v2.8M148.93 741.50v2.8M151.70 741.50v2.8M153.85 741.50v2.8M155.61 741.50v2.8M157.09 741.50v2.8M158.38 741.50v2.8M159.51 741.50v2.8M167.20 741.50v2.8M171.11 741.50v2.8M173.88 741.50v2.8M176.02 741.50v2.8M177.78 741.50v2.8M179.27 741.50v2.8M180.55 741.50v2.8M181.69 741.50v2.8" stroke="#000" stroke-width="1" stroke-opacity="0.85" fill="none"/>
<rect x="119.50" y="673.90" width="44.20" height="43.20" fill="none" stroke="#000" stroke-width="1.3"/>
<text x="125.64" y="666.90" font-size="12.79" font-weight="bold" textLength="31.69" lengthAdjust="spacingAndGlyphs">0.1%</text>
<path d="M204.20 653.60H293.60V741.50H204.20Z" fill="none" stroke="#000" stroke-width="1.7"/>
<path d="M200.90 719.52h3.3M200.90 697.55h3.3M200.90 675.58h3.3M226.55 741.50v3.3M248.90 741.50v3.3M271.25 741.50v3.3M200.90 653.60h3.3" stroke="#000" stroke-width="1.4" fill="none"/>
<path d="M201.60 734.88h2.6M201.60 731.02h2.6M201.60 728.27h2.6M201.60 726.14h2.6M201.60 724.40h2.6M201.60 722.93h2.6M201.60 721.65h2.6M201.60 720.53h2.6M201.60 712.91h2.6M201.60 709.04h2.6M201.60 706.29h2.6M201.60 704.17h2.6M201.60 702.43h2.6M201.60 700.95h2.6M201.60 699.68h2.6M201.60 698.56h2.6M201.60 690.93h2.6M201.60 687.07h2.6M201.60 684.32h2.6M201.60 682.19h2.6M201.60 680.45h2.6M201.60 678.98h2.6M201.60 677.70h2.6M201.60 676.58h2.6M201.60 668.96h2.6M201.60 665.09h2.6M201.60 662.34h2.6M201.60 660.22h2.6M201.60 658.48h2.6M201.60 657.00h2.6M201.60 655.73h2.6M201.60 654.61h2.6M210.93 741.50v2.8M214.86 741.50v2.8M217.66 741.50v2.8M219.82 741.50v2.8M221.59 741.50v2.8M223.09 741.50v2.8M224.38 741.50v2.8M225.53 741.50v2.8M233.28 741.50v2.8M237.21 741.50v2.8M240.01 741.50v2.8M242.17 741.50v2.8M243.94 741.50v2.8M245.44 741.50v2.8M246.73 741.50v2.8M247.88 741.50v2.8M255.63 741.50v2.8M259.56 741.50v2.8M262.36 741.50v2.8M264.52 741.50v2.8M266.29 741.50v2.8M267.79 741.50v2.8M269.08 741.50v2.8M270.23 741.50v2.8M277.98 741.50v2.8M281.91 741.50v2.8M284.71 741.50v2.8M286.87 741.50v2.8M288.64 741.50v2.8M290.14 741.50v2.8M291.43 741.50v2.8M292.58 741.50v2.8" stroke="#000" stroke-width="1" stroke-opacity="0.85" fill="none"/>
<rect x="228.20" y="673.90" width="44.40" height="43.20" fill="none" stroke="#000" stroke-width="1.3"/>
<text x="234.44" y="666.90" font-size="12.79" font-weight="bold" textLength="31.69" lengthAdjust="spacingAndGlyphs">0.5%</text>
<path d="M315.00 653.60H403.60V741.50H315.00Z" fill="none" stroke="#000" stroke-width="1.7"/>
<path d="M311.70 719.52h3.3M311.70 697.55h3.3M311.70 675.58h3.3M337.15 741.50v3.3M359.30 741.50v3.3M381.45 741.50v3.3M311.70 653.60h3.3" stroke="#000" stroke-width="1.4" fill="none"/>
<path d="M312.40 734.88h2.6M312.40 731.02h2.6M312.40 728.27h2.6M312.40 726.14h2.6M312.40 724.40h2.6M312.40 722.93h2.6M312.40 721.65h2.6M312.40 720.53h2.6M312.40 712.91h2.6M312.40 709.04h2.6M312.40 706.29h2.6M312.40 704.17h2.6M312.40 702.43h2.6M312.40 700.95h2.6M312.40 699.68h2.6M312.40 698.56h2.6M312.40 690.93h2.6M312.40 687.07h2.6M312.40 684.32h2.6M312.40 682.19h2.6M312.40 680.45h2.6M312.40 678.98h2.6M312.40 677.70h2.6M312.40 676.58h2.6M312.40 668.96h2.6M312.40 665.09h2.6M312.40 662.34h2.6M312.40 660.22h2.6M312.40 658.48h2.6M312.40 657.00h2.6M312.40 655.73h2.6M312.40 654.61h2.6M321.67 741.50v2.8M325.57 741.50v2.8M328.34 741.50v2.8M330.48 741.50v2.8M332.24 741.50v2.8M333.72 741.50v2.8M335.00 741.50v2.8M336.14 741.50v2.8M343.82 741.50v2.8M347.72 741.50v2.8M350.49 741.50v2.8M352.63 741.50v2.8M354.39 741.50v2.8M355.87 741.50v2.8M357.15 741.50v2.8M358.29 741.50v2.8M365.97 741.50v2.8M369.87 741.50v2.8M372.64 741.50v2.8M374.78 741.50v2.8M376.54 741.50v2.8M378.02 741.50v2.8M379.30 741.50v2.8M380.44 741.50v2.8M388.12 741.50v2.8M392.02 741.50v2.8M394.79 741.50v2.8M396.93 741.50v2.8M398.69 741.50v2.8M400.17 741.50v2.8M401.45 741.50v2.8M402.59 741.50v2.8" stroke="#000" stroke-width="1" stroke-opacity="0.85" fill="none"/>
<rect x="339.50" y="673.90" width="44.40" height="36.20" fill="none" stroke="#000" stroke-width="1.3"/>
<text x="346.09" y="666.90" font-size="12.79" font-weight="bold" textLength="31.34" lengthAdjust="spacingAndGlyphs">4.2%</text>
<path d="M424.60 653.60H513.60V741.50H424.60Z" fill="none" stroke="#000" stroke-width="1.7"/>
<path d="M421.30 719.52h3.3M421.30 697.55h3.3M421.30 675.58h3.3M446.85 741.50v3.3M469.10 741.50v3.3M491.35 741.50v3.3M421.30 653.60h3.3" stroke="#000" stroke-width="1.4" fill="none"/>
<path d="M422.00 734.88h2.6M422.00 731.02h2.6M422.00 728.27h2.6M422.00 726.14h2.6M422.00 724.40h2.6M422.00 722.93h2.6M422.00 721.65h2.6M422.00 720.53h2.6M422.00 712.91h2.6M422.00 709.04h2.6M422.00 706.29h2.6M422.00 704.17h2.6M422.00 702.43h2.6M422.00 700.95h2.6M422.00 699.68h2.6M422.00 698.56h2.6M422.00 690.93h2.6M422.00 687.07h2.6M422.00 684.32h2.6M422.00 682.19h2.6M422.00 680.45h2.6M422.00 678.98h2.6M422.00 677.70h2.6M422.00 676.58h2.6M422.00 668.96h2.6M422.00 665.09h2.6M422.00 662.34h2.6M422.00 660.22h2.6M422.00 658.48h2.6M422.00 657.00h2.6M422.00 655.73h2.6M422.00 654.61h2.6M431.30 741.50v2.8M435.22 741.50v2.8M438.00 741.50v2.8M440.15 741.50v2.8M441.91 741.50v2.8M443.40 741.50v2.8M444.69 741.50v2.8M445.83 741.50v2.8M453.55 741.50v2.8M457.47 741.50v2.8M460.25 741.50v2.8M462.40 741.50v2.8M464.16 741.50v2.8M465.65 741.50v2.8M466.94 741.50v2.8M468.08 741.50v2.8M475.80 741.50v2.8M479.72 741.50v2.8M482.50 741.50v2.8M484.65 741.50v2.8M486.41 741.50v2.8M487.90 741.50v2.8M489.19 741.50v2.8M490.33 741.50v2.8M498.05 741.50v2.8M501.97 741.50v2.8M504.75 741.50v2.8M506.90 741.50v2.8M508.66 741.50v2.8M510.15 741.50v2.8M511.44 741.50v2.8M512.58 741.50v2.8" stroke="#000" stroke-width="1" stroke-opacity="0.85" fill="none"/>
<rect x="448.00" y="673.90" width="44.40" height="36.20" fill="none" stroke="#000" stroke-width="1.3"/>
<text x="450.52" y="666.90" font-size="12.79" font-weight="bold" textLength="39.24" lengthAdjust="spacingAndGlyphs">27.6%</text>
<path d="M94.00 777.70H182.70V865.50H94.00Z" fill="none" stroke="#000" stroke-width="1.7"/>
<path d="M90.70 843.55h3.3M90.70 821.60h3.3M90.70 799.65h3.3M116.17 865.50v3.3M138.35 865.50v3.3M160.52 865.50v3.3M90.70 777.70h3.3" stroke="#000" stroke-width="1.4" fill="none"/>
<path d="M91.40 858.89h2.6M91.40 855.03h2.6M91.40 852.28h2.6M91.40 850.16h2.6M91.40 848.42h2.6M91.40 846.95h2.6M91.40 845.68h2.6M91.40 844.55h2.6M91.40 836.94h2.6M91.40 833.08h2.6M91.40 830.33h2.6M91.40 828.21h2.6M91.40 826.47h2.6M91.40 825.00h2.6M91.40 823.73h2.6M91.40 822.60h2.6M91.40 814.99h2.6M91.40 811.13h2.6M91.40 808.38h2.6M91.40 806.26h2.6M91.40 804.52h2.6M91.40 803.05h2.6M91.40 801.78h2.6M91.40 800.65h2.6M91.40 793.04h2.6M91.40 789.18h2.6M91.40 786.43h2.6M91.40 784.31h2.6M91.40 782.57h2.6M91.40 781.10h2.6M91.40 779.83h2.6M91.40 778.70h2.6M100.68 865.50v2.8M104.58 865.50v2.8M107.35 865.50v2.8M109.50 865.50v2.8M111.26 865.50v2.8M112.74 865.50v2.8M114.03 865.50v2.8M115.16 865.50v2.8M122.85 865.50v2.8M126.76 865.50v2.8M129.53 865.50v2.8M131.67 865.50v2.8M133.43 865.50v2.8M134.92 865.50v2.8M136.20 865.50v2.8M137.34 865.50v2.8M145.03 865.50v2.8M148.93 865.50v2.8M151.70 865.50v2.8M153.85 865.50v2.8M155.61 865.50v2.8M157.09 865.50v2.8M158.38 865.50v2.8M159.51 865.50v2.8M167.20 865.50v2.8M171.11 865.50v2.8M173.88 865.50v2.8M176.02 865.50v2.8M177.78 865.50v2.8M179.27 865.50v2.8M180.55 865.50v2.8M181.69 865.50v2.8" stroke="#000" stroke-width="1" stroke-opacity="0.85" fill="none"/>
<rect x="119.50" y="798.00" width="44.20" height="43.20" fill="none" stroke="#000" stroke-width="1.3"/>
<text x="125.64" y="791.00" font-size="12.79" font-weight="bold" textLength="31.69" lengthAdjust="spacingAndGlyphs">0.1%</text>
<path d="M204.20 777.70H293.60V865.50H204.20Z" fill="none" stroke="#000" stroke-width="1.7"/>
<path d="M200.90 843.55h3.3M200.90 821.60h3.3M200.90 799.65h3.3M226.55 865.50v3.3M248.90 865.50v3.3M271.25 865.50v3.3M200.90 777.70h3.3" stroke="#000" stroke-width="1.4" fill="none"/>
<path d="M201.60 858.89h2.6M201.60 855.03h2.6M201.60 852.28h2.6M201.60 850.16h2.6M201.60 848.42h2.6M201.60 846.95h2.6M201.60 845.68h2.6M201.60 844.55h2.6M201.60 836.94h2.6M201.60 833.08h2.6M201.60 830.33h2.6M201.60 828.21h2.6M201.60 826.47h2.6M201.60 825.00h2.6M201.60 823.73h2.6M201.60 822.60h2.6M201.60 814.99h2.6M201.60 811.13h2.6M201.60 808.38h2.6M201.60 806.26h2.6M201.60 804.52h2.6M201.60 803.05h2.6M201.60 801.78h2.6M201.60 800.65h2.6M201.60 793.04h2.6M201.60 789.18h2.6M201.60 786.43h2.6M201.60 784.31h2.6M201.60 782.57h2.6M201.60 781.10h2.6M201.60 779.83h2.6M201.60 778.70h2.6M210.93 865.50v2.8M214.86 865.50v2.8M217.66 865.50v2.8M219.82 865.50v2.8M221.59 865.50v2.8M223.09 865.50v2.8M224.38 865.50v2.8M225.53 865.50v2.8M233.28 865.50v2.8M237.21 865.50v2.8M240.01 865.50v2.8M242.17 865.50v2.8M243.94 865.50v2.8M245.44 865.50v2.8M246.73 865.50v2.8M247.88 865.50v2.8M255.63 865.50v2.8M259.56 865.50v2.8M262.36 865.50v2.8M264.52 865.50v2.8M266.29 865.50v2.8M267.79 865.50v2.8M269.08 865.50v2.8M270.23 865.50v2.8M277.98 865.50v2.8M281.91 865.50v2.8M284.71 865.50v2.8M286.87 865.50v2.8M288.64 865.50v2.8M290.14 865.50v2.8M291.43 865.50v2.8M292.58 865.50v2.8" stroke="#000" stroke-width="1" stroke-opacity="0.85" fill="none"/>
<rect x="228.20" y="798.00" width="44.40" height="43.20" fill="none" stroke="#000" stroke-width="1.3"/>
<text x="234.44" y="791.00" font-size="12.79" font-weight="bold" textLength="31.69" lengthAdjust="spacingAndGlyphs">0.5%</text>
<path d="M315.00 777.70H403.60V865.50H315.00Z" fill="none" stroke="#000" stroke-width="1.7"/>
<path d="M311.70 843.55h3.3M311.70 821.60h3.3M311.70 799.65h3.3M337.15 865.50v3.3M359.30 865.50v3.3M381.45 865.50v3.3M311.70 777.70h3.3" stroke="#000" stroke-width="1.4" fill="none"/>
<path d="M312.40 858.89h2.6M312.40 855.03h2.6M312.40 852.28h2.6M312.40 850.16h2.6M312.40 848.42h2.6M312.40 846.95h2.6M312.40 845.68h2.6M312.40 844.55h2.6M312.40 836.94h2.6M312.40 833.08h2.6M312.40 830.33h2.6M312.40 828.21h2.6M312.40 826.47h2.6M312.40 825.00h2.6M312.40 823.73h2.6M312.40 822.60h2.6M312.40 814.99h2.6M312.40 811.13h2.6M312.40 808.38h2.6M312.40 806.26h2.6M312.40 804.52h2.6M312.40 803.05h2.6M312.40 801.78h2.6M312.40 800.65h2.6M312.40 793.04h2.6M312.40 789.18h2.6M312.40 786.43h2.6M312.40 784.31h2.6M312.40 782.57h2.6M312.40 781.10h2.6M312.40 779.83h2.6M312.40 778.70h2.6M321.67 865.50v2.8M325.57 865.50v2.8M328.34 865.50v2.8M330.48 865.50v2.8M332.24 865.50v2.8M333.72 865.50v2.8M335.00 865.50v2.8M336.14 865.50v2.8M343.82 865.50v2.8M347.72 865.50v2.8M350.49 865.50v2.8M352.63 865.50v2.8M354.39 865.50v2.8M355.87 865.50v2.8M357.15 865.50v2.8M358.29 865.50v2.8M365.97 865.50v2.8M369.87 865.50v2.8M372.64 865.50v2.8M374.78 865.50v2.8M376.54 865.50v2.8M378.02 865.50v2.8M379.30 865.50v2.8M380.44 865.50v2.8M388.12 865.50v2.8M392.02 865.50v2.8M394.79 865.50v2.8M396.93 865.50v2.8M398.69 865.50v2.8M400.17 865.50v2.8M401.45 865.50v2.8M402.59 865.50v2.8" stroke="#000" stroke-width="1" stroke-opacity="0.85" fill="none"/>
<rect x="339.50" y="798.00" width="44.40" height="36.20" fill="none" stroke="#000" stroke-width="1.3"/>
<text x="345.46" y="791.00" font-size="12.79" font-weight="bold" textLength="31.98" lengthAdjust="spacingAndGlyphs">1.5%</text>
<path d="M424.60 777.70H513.60V865.50H424.60Z" fill="none" stroke="#000" stroke-width="1.7"/>
<path d="M421.30 843.55h3.3M421.30 821.60h3.3M421.30 799.65h3.3M446.85 865.50v3.3M469.10 865.50v3.3M491.35 865.50v3.3M421.30 777.70h3.3" stroke="#000" stroke-width="1.4" fill="none"/>
<path d="M422.00 858.89h2.6M422.00 855.03h2.6M422.00 852.28h2.6M422.00 850.16h2.6M422.00 848.42h2.6M422.00 846.95h2.6M422.00 845.68h2.6M422.00 844.55h2.6M422.00 836.94h2.6M422.00 833.08h2.6M422.00 830.33h2.6M422.00 828.21h2.6M422.00 826.47h2.6M422.00 825.00h2.6M422.00 823.73h2.6M422.00 822.60h2.6M422.00 814.99h2.6M422.00 811.13h2.6M422.00 808.38h2.6M422.00 806.26h2.6M422.00 804.52h2.6M422.00 803.05h2.6M422.00 801.78h2.6M422.00 800.65h2.6M422.00 793.04h2.6M422.00 789.18h2.6M422.00 786.43h2.6M422.00 784.31h2.6M422.00 782.57h2.6M422.00 781.10h2.6M422.00 779.83h2.6M422.00 778.70h2.6M431.30 865.50v2.8M435.22 865.50v2.8M438.00 865.50v2.8M440.15 865.50v2.8M441.91 865.50v2.8M443.40 865.50v2.8M444.69 865.50v2.8M445.83 865.50v2.8M453.55 865.50v2.8M457.47 865.50v2.8M460.25 865.50v2.8M462.40 865.50v2.8M464.16 865.50v2.8M465.65 865.50v2.8M466.94 865.50v2.8M468.08 865.50v2.8M475.80 865.50v2.8M479.72 865.50v2.8M482.50 865.50v2.8M484.65 865.50v2.8M486.41 865.50v2.8M487.90 865.50v2.8M489.19 865.50v2.8M490.33 865.50v2.8M498.05 865.50v2.8M501.97 865.50v2.8M504.75 865.50v2.8M506.90 865.50v2.8M508.66 865.50v2.8M510.15 865.50v2.8M511.44 865.50v2.8M512.58 865.50v2.8" stroke="#000" stroke-width="1" stroke-opacity="0.85" fill="none"/>
<rect x="448.00" y="798.00" width="44.40" height="36.20" fill="none" stroke="#000" stroke-width="1.3"/>
<text x="450.16" y="791.00" font-size="12.79" font-weight="bold" textLength="39.59" lengthAdjust="spacingAndGlyphs">15.7%</text>
<path d="M94.00 880.10H182.70V968.00H94.00Z" fill="none" stroke="#000" stroke-width="1.7"/>
<path d="M90.70 946.02h3.3M90.70 924.05h3.3M90.70 902.08h3.3M116.17 968.00v3.3M138.35 968.00v3.3M160.52 968.00v3.3M90.70 880.10h3.3" stroke="#000" stroke-width="1.4" fill="none"/>
<path d="M91.40 961.38h2.6M91.40 957.52h2.6M91.40 954.77h2.6M91.40 952.64h2.6M91.40 950.90h2.6M91.40 949.43h2.6M91.40 948.15h2.6M91.40 947.03h2.6M91.40 939.41h2.6M91.40 935.54h2.6M91.40 932.79h2.6M91.40 930.67h2.6M91.40 928.93h2.6M91.40 927.45h2.6M91.40 926.18h2.6M91.40 925.06h2.6M91.40 917.43h2.6M91.40 913.57h2.6M91.40 910.82h2.6M91.40 908.69h2.6M91.40 906.95h2.6M91.40 905.48h2.6M91.40 904.20h2.6M91.40 903.08h2.6M91.40 895.46h2.6M91.40 891.59h2.6M91.40 888.84h2.6M91.40 886.72h2.6M91.40 884.98h2.6M91.40 883.50h2.6M91.40 882.23h2.6M91.40 881.11h2.6M100.68 968.00v2.8M104.58 968.00v2.8M107.35 968.00v2.8M109.50 968.00v2.8M111.26 968.00v2.8M112.74 968.00v2.8M114.03 968.00v2.8M115.16 968.00v2.8M122.85 968.00v2.8M126.76 968.00v2.8M129.53 968.00v2.8M131.67 968.00v2.8M133.43 968.00v2.8M134.92 968.00v2.8M136.20 968.00v2.8M137.34 968.00v2.8M145.03 968.00v2.8M148.93 968.00v2.8M151.70 968.00v2.8M153.85 968.00v2.8M155.61 968.00v2.8M157.09 968.00v2.8M158.38 968.00v2.8M159.51 968.00v2.8M167.20 968.00v2.8M171.11 968.00v2.8M173.88 968.00v2.8M176.02 968.00v2.8M177.78 968.00v2.8M179.27 968.00v2.8M180.55 968.00v2.8M181.69 968.00v2.8" stroke="#000" stroke-width="1" stroke-opacity="0.85" fill="none"/>
<rect x="119.50" y="900.40" width="44.20" height="43.20" fill="none" stroke="#000" stroke-width="1.3"/>
<text x="125.64" y="893.40" font-size="12.79" font-weight="bold" textLength="31.69" lengthAdjust="spacingAndGlyphs">0.1%</text>
<path d="M204.20 880.10H293.60V968.00H204.20Z" fill="none" stroke="#000" stroke-width="1.7"/>
<path d="M200.90 946.02h3.3M200.90 924.05h3.3M200.90 902.08h3.3M226.55 968.00v3.3M248.90 968.00v3.3M271.25 968.00v3.3M200.90 880.10h3.3" stroke="#000" stroke-width="1.4" fill="none"/>
<path d="M201.60 961.38h2.6M201.60 957.52h2.6M201.60 954.77h2.6M201.60 952.64h2.6M201.60 950.90h2.6M201.60 949.43h2.6M201.60 948.15h2.6M201.60 947.03h2.6M201.60 939.41h2.6M201.60 935.54h2.6M201.60 932.79h2.6M201.60 930.67h2.6M201.60 928.93h2.6M201.60 927.45h2.6M201.60 926.18h2.6M201.60 925.06h2.6M201.60 917.43h2.6M201.60 913.57h2.6M201.60 910.82h2.6M201.60 908.69h2.6M201.60 906.95h2.6M201.60 905.48h2.6M201.60 904.20h2.6M201.60 903.08h2.6M201.60 895.46h2.6M201.60 891.59h2.6M201.60 888.84h2.6M201.60 886.72h2.6M201.60 884.98h2.6M201.60 883.50h2.6M201.60 882.23h2.6M201.60 881.11h2.6M210.93 968.00v2.8M214.86 968.00v2.8M217.66 968.00v2.8M219.82 968.00v2.8M221.59 968.00v2.8M223.09 968.00v2.8M224.38 968.00v2.8M225.53 968.00v2.8M233.28 968.00v2.8M237.21 968.00v2.8M240.01 968.00v2.8M242.17 968.00v2.8M243.94 968.00v2.8M245.44 968.00v2.8M246.73 968.00v2.8M247.88 968.00v2.8M255.63 968.00v2.8M259.56 968.00v2.8M262.36 968.00v2.8M264.52 968.00v2.8M266.29 968.00v2.8M267.79 968.00v2.8M269.08 968.00v2.8M270.23 968.00v2.8M277.98 968.00v2.8M281.91 968.00v2.8M284.71 968.00v2.8M286.87 968.00v2.8M288.64 968.00v2.8M290.14 968.00v2.8M291.43 968.00v2.8M292.58 968.00v2.8" stroke="#000" stroke-width="1" stroke-opacity="0.85" fill="none"/>
<rect x="228.20" y="900.40" width="44.40" height="43.20" fill="none" stroke="#000" stroke-width="1.3"/>
<text x="234.44" y="893.40" font-size="12.79" font-weight="bold" textLength="31.69" lengthAdjust="spacingAndGlyphs">0.2%</text>
<path d="M315.00 880.10H403.60V968.00H315.00Z" fill="none" stroke="#000" stroke-width="1.7"/>
<path d="M311.70 946.02h3.3M311.70 924.05h3.3M311.70 902.08h3.3M337.15 968.00v3.3M359.30 968.00v3.3M381.45 968.00v3.3M311.70 880.10h3.3" stroke="#000" stroke-width="1.4" fill="none"/>
<path d="M312.40 961.38h2.6M312.40 957.52h2.6M312.40 954.77h2.6M312.40 952.64h2.6M312.40 950.90h2.6M312.40 949.43h2.6M312.40 948.15h2.6M312.40 947.03h2.6M312.40 939.41h2.6M312.40 935.54h2.6M312.40 932.79h2.6M312.40 930.67h2.6M312.40 928.93h2.6M312.40 927.45h2.6M312.40 926.18h2.6M312.40 925.06h2.6M312.40 917.43h2.6M312.40 913.57h2.6M312.40 910.82h2.6M312.40 908.69h2.6M312.40 906.95h2.6M312.40 905.48h2.6M312.40 904.20h2.6M312.40 903.08h2.6M312.40 895.46h2.6M312.40 891.59h2.6M312.40 888.84h2.6M312.40 886.72h2.6M312.40 884.98h2.6M312.40 883.50h2.6M312.40 882.23h2.6M312.40 881.11h2.6M321.67 968.00v2.8M325.57 968.00v2.8M328.34 968.00v2.8M330.48 968.00v2.8M332.24 968.00v2.8M333.72 968.00v2.8M335.00 968.00v2.8M336.14 968.00v2.8M343.82 968.00v2.8M347.72 968.00v2.8M350.49 968.00v2.8M352.63 968.00v2.8M354.39 968.00v2.8M355.87 968.00v2.8M357.15 968.00v2.8M358.29 968.00v2.8M365.97 968.00v2.8M369.87 968.00v2.8M372.64 968.00v2.8M374.78 968.00v2.8M376.54 968.00v2.8M378.02 968.00v2.8M379.30 968.00v2.8M380.44 968.00v2.8M388.12 968.00v2.8M392.02 968.00v2.8M394.79 968.00v2.8M396.93 968.00v2.8M398.69 968.00v2.8M400.17 968.00v2.8M401.45 968.00v2.8M402.59 968.00v2.8" stroke="#000" stroke-width="1" stroke-opacity="0.85" fill="none"/>
<rect x="339.50" y="900.40" width="44.40" height="36.20" fill="none" stroke="#000" stroke-width="1.3"/>
<text x="345.74" y="893.40" font-size="12.79" font-weight="bold" textLength="31.69" lengthAdjust="spacingAndGlyphs">0.7%</text>
<path d="M424.60 880.10H513.60V968.00H424.60Z" fill="none" stroke="#000" stroke-width="1.7"/>
<path d="M421.30 946.02h3.3M421.30 924.05h3.3M421.30 902.08h3.3M446.85 968.00v3.3M469.10 968.00v3.3M491.35 968.00v3.3M421.30 880.10h3.3" stroke="#000" stroke-width="1.4" fill="none"/>
<path d="M422.00 961.38h2.6M422.00 957.52h2.6M422.00 954.77h2.6M422.00 952.64h2.6M422.00 950.90h2.6M422.00 949.43h2.6M422.00 948.15h2.6M422.00 947.03h2.6M422.00 939.41h2.6M422.00 935.54h2.6M422.00 932.79h2.6M422.00 930.67h2.6M422.00 928.93h2.6M422.00 927.45h2.6M422.00 926.18h2.6M422.00 925.06h2.6M422.00 917.43h2.6M422.00 913.57h2.6M422.00 910.82h2.6M422.00 908.69h2.6M422.00 906.95h2.6M422.00 905.48h2.6M422.00 904.20h2.6M422.00 903.08h2.6M422.00 895.46h2.6M422.00 891.59h2.6M422.00 888.84h2.6M422.00 886.72h2.6M422.00 884.98h2.6M422.00 883.50h2.6M422.00 882.23h2.6M422.00 881.11h2.6M431.30 968.00v2.8M435.22 968.00v2.8M438.00 968.00v2.8M440.15 968.00v2.8M441.91 968.00v2.8M443.40 968.00v2.8M444.69 968.00v2.8M445.83 968.00v2.8M453.55 968.00v2.8M457.47 968.00v2.8M460.25 968.00v2.8M462.40 968.00v2.8M464.16 968.00v2.8M465.65 968.00v2.8M466.94 968.00v2.8M468.08 968.00v2.8M475.80 968.00v2.8M479.72 968.00v2.8M482.50 968.00v2.8M484.65 968.00v2.8M486.41 968.00v2.8M487.90 968.00v2.8M489.19 968.00v2.8M490.33 968.00v2.8M498.05 968.00v2.8M501.97 968.00v2.8M504.75 968.00v2.8M506.90 968.00v2.8M508.66 968.00v2.8M510.15 968.00v2.8M511.44 968.00v2.8M512.58 968.00v2.8" stroke="#000" stroke-width="1" stroke-opacity="0.85" fill="none"/>
<rect x="448.00" y="900.40" width="44.40" height="36.20" fill="none" stroke="#000" stroke-width="1.3"/>
<text x="454.31" y="893.40" font-size="12.79" font-weight="bold" textLength="31.62" lengthAdjust="spacingAndGlyphs">2.7%</text>
<clipPath id="c404"><rect x="94.80" y="553.80" width="87.10" height="86.40"/></clipPath>
<g clip-path="url(#c404)"><ellipse cx="135.00" cy="627.50" rx="19.80" ry="17.10" fill="url(#rg0)" filter="url(#spk)"/></g>
<clipPath id="c406"><rect x="205.00" y="553.80" width="87.80" height="86.40"/></clipPath>
<g clip-path="url(#c406)"><ellipse cx="247.00" cy="628.00" rx="18.70" ry="17.60" fill="url(#rg0)" filter="url(#spk)"/></g>
<clipPath id="c408"><rect x="315.80" y="553.80" width="87.00" height="86.40"/></clipPath>
<g clip-path="url(#c408)"><ellipse cx="361.00" cy="624.50" rx="18.70" ry="23.10" transform="rotate(20 361.00 624.50)" fill="url(#rg0)" filter="url(#spk)"/></g>
<radialGradient id="rg3"><stop offset="0.0" stop-opacity="0.130"/><stop offset="0.1" stop-opacity="0.127"/><stop offset="0.2" stop-opacity="0.119"/><stop offset="0.3" stop-opacity="0.107"/><stop offset="0.4" stop-opacity="0.091"/><stop offset="0.5" stop-opacity="0.075"/><stop offset="0.6" stop-opacity="0.059"/><stop offset="0.7" stop-opacity="0.044"/><stop offset="0.8" stop-opacity="0.032"/><stop offset="0.9" stop-opacity="0.022"/><stop offset="1.0" stop-opacity="0.014"/></radialGradient>
<clipPath id="c411"><rect x="315.80" y="553.80" width="87.00" height="86.40"/></clipPath>
<g clip-path="url(#c411)"><ellipse cx="361.00" cy="600.00" rx="13.00" ry="12.00" fill="url(#rg3)" filter="url(#spk2)"/></g>
<clipPath id="c413"><rect x="425.40" y="553.80" width="87.40" height="86.40"/></clipPath>
<g clip-path="url(#c413)"><ellipse cx="466.50" cy="623.50" rx="20.90" ry="19.80" transform="rotate(20 466.50 623.50)" fill="url(#rg0)" filter="url(#spk)"/></g>
<radialGradient id="rg4"><stop offset="0.0" stop-opacity="0.380"/><stop offset="0.1" stop-opacity="0.372"/><stop offset="0.2" stop-opacity="0.348"/><stop offset="0.3" stop-opacity="0.312"/><stop offset="0.4" stop-opacity="0.267"/><stop offset="0.5" stop-opacity="0.219"/><stop offset="0.6" stop-opacity="0.172"/><stop offset="0.7" stop-opacity="0.129"/><stop offset="0.8" stop-opacity="0.093"/><stop offset="0.9" stop-opacity="0.064"/><stop offset="1.0" stop-opacity="0.042"/></radialGradient>
<clipPath id="c416"><rect x="425.40" y="553.80" width="87.40" height="86.40"/></clipPath>
<g clip-path="url(#c416)"><ellipse cx="466.00" cy="595.00" rx="14.00" ry="17.00" fill="url(#rg4)" filter="url(#spk2)"/></g>
<clipPath id="c418"><rect x="94.80" y="654.40" width="87.10" height="86.30"/></clipPath>
<g clip-path="url(#c418)"><ellipse cx="133.50" cy="729.00" rx="20.90" ry="16.50" fill="url(#rg0)" filter="url(#spk)"/></g>
<clipPath id="c420"><rect x="205.00" y="654.40" width="87.80" height="86.30"/></clipPath>
<g clip-path="url(#c420)"><ellipse cx="244.00" cy="729.50" rx="16.00" ry="21.50" transform="rotate(45 244.00 729.50)" fill="url(#rg0)" filter="url(#spk)"/></g>
<radialGradient id="rg5"><stop offset="0.0" stop-opacity="0.120"/><stop offset="0.1" stop-opacity="0.118"/><stop offset="0.2" stop-opacity="0.112"/><stop offset="0.3" stop-opacity="0.102"/><stop offset="0.4" stop-opacity="0.090"/><stop offset="0.5" stop-opacity="0.077"/><stop offset="0.6" stop-opacity="0.063"/><stop offset="0.7" stop-opacity="0.050"/><stop offset="0.8" stop-opacity="0.038"/><stop offset="0.9" stop-opacity="0.028"/><stop offset="1.0" stop-opacity="0.020"/></radialGradient>
<clipPath id="c423"><rect x="205.00" y="654.40" width="87.80" height="86.30"/></clipPath>
<g clip-path="url(#c423)"><ellipse cx="250.00" cy="704.00" rx="13.00" ry="12.00" fill="url(#rg5)" filter="url(#spk2)"/></g>
<clipPath id="c425"><rect x="315.80" y="654.40" width="87.00" height="86.30"/></clipPath>
<g clip-path="url(#c425)"><ellipse cx="358.00" cy="727.00" rx="16.50" ry="25.30" transform="rotate(30 358.00 727.00)" fill="url(#rg0)" filter="url(#spk)"/></g>
<radialGradient id="rg6"><stop offset="0.0" stop-opacity="0.450"/><stop offset="0.1" stop-opacity="0.440"/><stop offset="0.2" stop-opacity="0.412"/><stop offset="0.3" stop-opacity="0.369"/><stop offset="0.4" stop-opacity="0.316"/><stop offset="0.5" stop-opacity="0.260"/><stop offset="0.6" stop-opacity="0.204"/><stop offset="0.7" stop-opacity="0.153"/><stop offset="0.8" stop-opacity="0.110"/><stop offset="0.9" stop-opacity="0.076"/><stop offset="1.0" stop-opacity="0.050"/></radialGradient>
<clipPath id="c428"><rect x="315.80" y="654.40" width="87.00" height="86.30"/></clipPath>
<g clip-path="url(#c428)"><ellipse cx="362.00" cy="700.00" rx="14.00" ry="16.00" fill="url(#rg6)" filter="url(#spk2)"/></g>
<clipPath id="c430"><rect x="425.40" y="654.40" width="87.40" height="86.30"/></clipPath>
<g clip-path="url(#c430)"><ellipse cx="469.50" cy="721.00" rx="23.10" ry="20.90" fill="url(#rg0)" filter="url(#spk)"/></g>
<radialGradient id="rg7"><stop offset="0.0" stop-opacity="1.000"/><stop offset="0.1" stop-opacity="1.000"/><stop offset="0.2" stop-opacity="1.000"/><stop offset="0.3" stop-opacity="0.919"/><stop offset="0.4" stop-opacity="0.799"/><stop offset="0.5" stop-opacity="0.667"/><stop offset="0.6" stop-opacity="0.535"/><stop offset="0.7" stop-opacity="0.413"/><stop offset="0.8" stop-opacity="0.306"/><stop offset="0.9" stop-opacity="0.218"/><stop offset="1.0" stop-opacity="0.149"/></radialGradient>
<clipPath id="c433"><rect x="425.40" y="654.40" width="87.40" height="86.30"/></clipPath>
<g clip-path="url(#c433)"><ellipse cx="470.00" cy="697.00" rx="21.00" ry="22.00" fill="url(#rg7)" filter="url(#spk2)"/></g>
<clipPath id="c435"><rect x="94.80" y="778.50" width="87.10" height="86.20"/></clipPath>
<g clip-path="url(#c435)"><ellipse cx="140.50" cy="853.00" rx="20.40" ry="17.60" fill="url(#rg0)" filter="url(#spk)"/></g>
<clipPath id="c437"><rect x="205.00" y="778.50" width="87.80" height="86.20"/></clipPath>
<g clip-path="url(#c437)"><ellipse cx="251.50" cy="853.00" rx="20.40" ry="17.60" fill="url(#rg0)" filter="url(#spk)"/></g>
<radialGradient id="rg8"><stop offset="0.0" stop-opacity="0.140"/><stop offset="0.1" stop-opacity="0.138"/><stop offset="0.2" stop-opacity="0.130"/><stop offset="0.3" stop-opacity="0.119"/><stop offset="0.4" stop-opacity="0.105"/><stop offset="0.5" stop-opacity="0.089"/><stop offset="0.6" stop-opacity="0.073"/><stop offset="0.7" stop-opacity="0.058"/><stop offset="0.8" stop-opacity="0.044"/><stop offset="0.9" stop-opacity="0.033"/><stop offset="1.0" stop-opacity="0.023"/></radialGradient>
<clipPath id="c440"><rect x="205.00" y="778.50" width="87.80" height="86.20"/></clipPath>
<g clip-path="url(#c440)"><ellipse cx="250.00" cy="822.00" rx="16.00" ry="16.00" fill="url(#rg8)" filter="url(#spk2)"/></g>
<clipPath id="c442"><rect x="315.80" y="778.50" width="87.00" height="86.20"/></clipPath>
<g clip-path="url(#c442)"><ellipse cx="361.00" cy="853.50" rx="22.00" ry="16.50" fill="url(#rg0)" filter="url(#spk)"/></g>
<radialGradient id="rg9"><stop offset="0.0" stop-opacity="0.250"/><stop offset="0.1" stop-opacity="0.245"/><stop offset="0.2" stop-opacity="0.229"/><stop offset="0.3" stop-opacity="0.205"/><stop offset="0.4" stop-opacity="0.176"/><stop offset="0.5" stop-opacity="0.144"/><stop offset="0.6" stop-opacity="0.113"/><stop offset="0.7" stop-opacity="0.085"/><stop offset="0.8" stop-opacity="0.061"/><stop offset="0.9" stop-opacity="0.042"/><stop offset="1.0" stop-opacity="0.028"/></radialGradient>
<clipPath id="c445"><rect x="315.80" y="778.50" width="87.00" height="86.20"/></clipPath>
<g clip-path="url(#c445)"><ellipse cx="362.00" cy="820.00" rx="17.00" ry="17.00" fill="url(#rg9)" filter="url(#spk2)"/></g>
<clipPath id="c447"><rect x="425.40" y="778.50" width="87.40" height="86.20"/></clipPath>
<g clip-path="url(#c447)"><ellipse cx="471.00" cy="849.00" rx="23.50" ry="18.50" fill="url(#rg0)" filter="url(#spk)"/></g>
<radialGradient id="rg10"><stop offset="0.0" stop-opacity="0.900"/><stop offset="0.1" stop-opacity="0.882"/><stop offset="0.2" stop-opacity="0.831"/><stop offset="0.3" stop-opacity="0.752"/><stop offset="0.4" stop-opacity="0.654"/><stop offset="0.5" stop-opacity="0.546"/><stop offset="0.6" stop-opacity="0.438"/><stop offset="0.7" stop-opacity="0.338"/><stop offset="0.8" stop-opacity="0.250"/><stop offset="0.9" stop-opacity="0.178"/><stop offset="1.0" stop-opacity="0.122"/></radialGradient>
<clipPath id="c450"><rect x="425.40" y="778.50" width="87.40" height="86.20"/></clipPath>
<g clip-path="url(#c450)"><ellipse cx="473.00" cy="821.00" rx="20.00" ry="20.00" fill="url(#rg10)" filter="url(#spk2)"/></g>
<clipPath id="c452"><rect x="94.80" y="880.90" width="87.10" height="86.30"/></clipPath>
<g clip-path="url(#c452)"><ellipse cx="141.50" cy="955.00" rx="20.40" ry="17.60" fill="url(#rg0)" filter="url(#spk)"/></g>
<clipPath id="c454"><rect x="205.00" y="880.90" width="87.80" height="86.30"/></clipPath>
<g clip-path="url(#c454)"><ellipse cx="250.50" cy="955.50" rx="20.40" ry="17.60" fill="url(#rg0)" filter="url(#spk)"/></g>
<clipPath id="c456"><rect x="315.80" y="880.90" width="87.00" height="86.30"/></clipPath>
<g clip-path="url(#c456)"><ellipse cx="359.50" cy="953.50" rx="20.90" ry="18.70" fill="url(#rg0)" filter="url(#spk)"/></g>
<radialGradient id="rg11"><stop offset="0.0" stop-opacity="0.150"/><stop offset="0.1" stop-opacity="0.147"/><stop offset="0.2" stop-opacity="0.137"/><stop offset="0.3" stop-opacity="0.123"/><stop offset="0.4" stop-opacity="0.105"/><stop offset="0.5" stop-opacity="0.087"/><stop offset="0.6" stop-opacity="0.068"/><stop offset="0.7" stop-opacity="0.051"/><stop offset="0.8" stop-opacity="0.037"/><stop offset="0.9" stop-opacity="0.025"/><stop offset="1.0" stop-opacity="0.017"/></radialGradient>
<clipPath id="c459"><rect x="315.80" y="880.90" width="87.00" height="86.30"/></clipPath>
<g clip-path="url(#c459)"><ellipse cx="362.00" cy="921.00" rx="15.00" ry="15.00" fill="url(#rg11)" filter="url(#spk2)"/></g>
<clipPath id="c461"><rect x="425.40" y="880.90" width="87.40" height="86.30"/></clipPath>
<g clip-path="url(#c461)"><ellipse cx="468.00" cy="952.00" rx="22.00" ry="19.80" fill="url(#rg0)" filter="url(#spk)"/></g>
<radialGradient id="rg12"><stop offset="0.0" stop-opacity="0.320"/><stop offset="0.1" stop-opacity="0.313"/><stop offset="0.2" stop-opacity="0.293"/><stop offset="0.3" stop-opacity="0.263"/><stop offset="0.4" stop-opacity="0.225"/><stop offset="0.5" stop-opacity="0.185"/><stop offset="0.6" stop-opacity="0.145"/><stop offset="0.7" stop-opacity="0.109"/><stop offset="0.8" stop-opacity="0.078"/><stop offset="0.9" stop-opacity="0.054"/><stop offset="1.0" stop-opacity="0.035"/></radialGradient>
<clipPath id="c464"><rect x="425.40" y="880.90" width="87.40" height="86.30"/></clipPath>
<g clip-path="url(#c464)"><ellipse cx="467.00" cy="924.00" rx="14.00" ry="16.00" fill="url(#rg12)" filter="url(#spk2)"/></g>
<line x1="82.00" y1="565.00" x2="82.00" y2="921.50" stroke="#000" stroke-width="1.6"/>
<path d="M74.9 569.2 L82.3 548.7 L89.2 569.2 L82.3 565.5 Z" fill="#000"/>
<text transform="translate(85.90,967.30) rotate(-90)" x="-1.03" y="0" font-size="14.68" font-weight="bold" textLength="36.95" lengthAdjust="spacingAndGlyphs">IL-10</text>
<text x="94.39" y="983.60" font-size="13.66" font-weight="bold" textLength="38.87" lengthAdjust="spacingAndGlyphs">CD19</text>
<line x1="142.00" y1="980.30" x2="470.00" y2="980.30" stroke="#000" stroke-width="1.6"/>
<path d="M464.6 974.3 L485.8 980.6 L464.6 987.2 L468 980.6 Z" fill="#000"/>
<text x="117.26" y="1008.90" font-size="14.53" font-weight="bold" textLength="48.21" lengthAdjust="spacingAndGlyphs" style="stroke-width:0">Spleen</text>
<line x1="38.30" y1="1013.20" x2="244.60" y2="1013.20" stroke="#000" stroke-width="1.4"/>
<text x="60.73" y="1036.50" font-size="11.05" font-weight="bold" textLength="79.87" lengthAdjust="spacingAndGlyphs">B10 cells (5 h)</text>
<text x="157.52" y="1026.00" font-size="11.05" font-weight="bold" textLength="99.96" lengthAdjust="spacingAndGlyphs">B10+B10pro cells</text>
<text x="166.89" y="1038.00" font-size="11.05" font-weight="bold" textLength="80.69" lengthAdjust="spacingAndGlyphs">(48 h, PIB 5 h)</text>
<rect x="41.60" y="1042.50" width="115.40" height="140.80" fill="none" stroke="#000" stroke-width="1.4"/>
<rect x="160.30" y="1042.50" width="84.20" height="140.80" fill="none" stroke="#000" stroke-width="1.4"/>
<line x1="38.80" y1="1183.30" x2="41.60" y2="1183.30" stroke="#000" stroke-width="1.2"/>
<text x="30.99" y="1187.70" font-size="10.61" font-weight="bold" textLength="7.14" lengthAdjust="spacingAndGlyphs">0</text>
<line x1="38.80" y1="1148.10" x2="41.60" y2="1148.10" stroke="#000" stroke-width="1.2"/>
<text x="21.43" y="1152.50" font-size="10.61" font-weight="bold" textLength="16.47" lengthAdjust="spacingAndGlyphs">0.5</text>
<line x1="38.80" y1="1112.90" x2="41.60" y2="1112.90" stroke="#000" stroke-width="1.2"/>
<text x="21.17" y="1117.30" font-size="10.61" font-weight="bold" textLength="16.92" lengthAdjust="spacingAndGlyphs">1.0</text>
<line x1="38.80" y1="1077.70" x2="41.60" y2="1077.70" stroke="#000" stroke-width="1.2"/>
<text x="21.18" y="1082.10" font-size="10.61" font-weight="bold" textLength="16.72" lengthAdjust="spacingAndGlyphs">1.5</text>
<line x1="38.80" y1="1042.50" x2="41.60" y2="1042.50" stroke="#000" stroke-width="1.2"/>
<text x="21.48" y="1046.90" font-size="10.61" font-weight="bold" textLength="16.60" lengthAdjust="spacingAndGlyphs">2.0</text>
<line x1="244.50" y1="1183.30" x2="247.30" y2="1183.30" stroke="#000" stroke-width="1.2"/>
<text x="248.34" y="1187.30" font-size="10.76" font-weight="normal" textLength="6.37" lengthAdjust="spacingAndGlyphs" style="stroke-width:0.6">0</text>
<line x1="244.50" y1="1142.90" x2="247.30" y2="1142.90" stroke="#000" stroke-width="1.2"/>
<text x="247.96" y="1146.90" font-size="10.76" font-weight="normal" textLength="12.46" lengthAdjust="spacingAndGlyphs" style="stroke-width:0.6">10</text>
<line x1="244.50" y1="1102.50" x2="247.30" y2="1102.50" stroke="#000" stroke-width="1.2"/>
<text x="248.25" y="1106.50" font-size="10.76" font-weight="normal" textLength="12.15" lengthAdjust="spacingAndGlyphs" style="stroke-width:0.6">20</text>
<line x1="244.50" y1="1062.10" x2="247.30" y2="1062.10" stroke="#000" stroke-width="1.2"/>
<text x="248.37" y="1066.10" font-size="10.76" font-weight="normal" textLength="12.04" lengthAdjust="spacingAndGlyphs" style="stroke-width:0.6">30</text>
<text transform="translate(16.4,1177) rotate(-90)" font-size="14.6" font-weight="bold" textLength="120" lengthAdjust="spacingAndGlyphs">IL-10<tspan font-size="14.4" dy="-1.8">+</tspan><tspan dy="1.8"> B cells (%)</tspan></text>
<circle cx="52.00" cy="1175.00" r="3.1"/>
<circle cx="60.00" cy="1178.20" r="3.1"/>
<circle cx="64.50" cy="1173.80" r="3.1"/>
<circle cx="68.20" cy="1176.20" r="3.1"/>
<line x1="45.00" y1="1175.00" x2="74.50" y2="1175.00" stroke="#000" stroke-width="1.3"/>
<circle cx="95.00" cy="1148.70" r="3.1"/>
<circle cx="95.00" cy="1165.50" r="3.1"/>
<circle cx="103.70" cy="1170.50" r="3.1"/>
<circle cx="95.00" cy="1174.20" r="3.1"/>
<line x1="78.70" y1="1164.20" x2="110.00" y2="1164.20" stroke="#000" stroke-width="1.3"/>
<circle cx="136.00" cy="1150.70" r="3.1"/>
<circle cx="128.20" cy="1160.50" r="3.1"/>
<circle cx="136.00" cy="1163.00" r="3.1"/>
<circle cx="136.00" cy="1172.50" r="3.1"/>
<line x1="120.00" y1="1160.70" x2="150.70" y2="1160.70" stroke="#000" stroke-width="1.3"/>
<circle cx="180.70" cy="1156.20" r="3.1"/>
<circle cx="180.70" cy="1167.00" r="3.1"/>
<circle cx="180.70" cy="1180.30" r="3.1"/>
<circle cx="188.70" cy="1179.50" r="3.1"/>
<line x1="164.50" y1="1169.50" x2="195.70" y2="1169.50" stroke="#000" stroke-width="1.3"/>
<circle cx="224.20" cy="1072.50" r="3.1"/>
<circle cx="224.20" cy="1115.70" r="3.1"/>
<circle cx="224.20" cy="1145.00" r="3.1"/>
<circle cx="224.20" cy="1170.70" r="3.1"/>
<line x1="208.20" y1="1125.50" x2="238.70" y2="1125.50" stroke="#000" stroke-width="1.3"/>
<text x="95.70" y="1137.95" font-size="15.40" font-weight="bold" text-anchor="middle">*</text>
<text x="136.20" y="1139.95" font-size="15.40" font-weight="bold" text-anchor="middle">*</text>
<text x="180.70" y="1144.15" font-size="15.40" font-weight="bold" text-anchor="middle">*</text>
<text x="224.20" y="1061.65" font-size="15.40" font-weight="bold" text-anchor="middle">*</text>
<text x="376.05" y="1009.20" font-size="14.53" font-weight="bold" textLength="43.21" lengthAdjust="spacingAndGlyphs" style="stroke-width:0">Tonsil</text>
<line x1="292.80" y1="1013.20" x2="498.50" y2="1013.20" stroke="#000" stroke-width="1.4"/>
<text x="311.72" y="1036.70" font-size="11.05" font-weight="bold" textLength="80.89" lengthAdjust="spacingAndGlyphs">B10 cells (5 h)</text>
<text x="408.42" y="1025.40" font-size="11.05" font-weight="bold" textLength="100.37" lengthAdjust="spacingAndGlyphs">B10+B10pro cells</text>
<text x="418.80" y="1039.20" font-size="11.05" font-weight="bold" textLength="79.57" lengthAdjust="spacingAndGlyphs">(48 h, PIB 5 h)</text>
<rect x="293.80" y="1042.50" width="112.20" height="140.80" fill="none" stroke="#000" stroke-width="1.4"/>
<rect x="409.80" y="1042.50" width="88.20" height="140.80" fill="none" stroke="#000" stroke-width="1.4"/>
<line x1="291.00" y1="1183.30" x2="293.80" y2="1183.30" stroke="#000" stroke-width="1.2"/>
<text x="284.49" y="1187.70" font-size="10.61" font-weight="bold" textLength="7.03" lengthAdjust="spacingAndGlyphs">0</text>
<line x1="291.00" y1="1148.10" x2="293.80" y2="1148.10" stroke="#000" stroke-width="1.2"/>
<text x="274.52" y="1152.50" font-size="10.61" font-weight="bold" textLength="16.79" lengthAdjust="spacingAndGlyphs">0.5</text>
<line x1="291.00" y1="1112.90" x2="293.80" y2="1112.90" stroke="#000" stroke-width="1.2"/>
<text x="274.26" y="1117.30" font-size="10.61" font-weight="bold" textLength="17.24" lengthAdjust="spacingAndGlyphs">1.0</text>
<line x1="291.00" y1="1077.70" x2="293.80" y2="1077.70" stroke="#000" stroke-width="1.2"/>
<text x="274.26" y="1082.10" font-size="10.61" font-weight="bold" textLength="17.04" lengthAdjust="spacingAndGlyphs">1.5</text>
<line x1="291.00" y1="1042.50" x2="293.80" y2="1042.50" stroke="#000" stroke-width="1.2"/>
<text x="274.57" y="1046.90" font-size="10.61" font-weight="bold" textLength="16.91" lengthAdjust="spacingAndGlyphs">2.0</text>
<line x1="498.00" y1="1183.30" x2="500.80" y2="1183.30" stroke="#000" stroke-width="1.2"/>
<text x="500.92" y="1187.30" font-size="10.76" font-weight="normal" textLength="8.11" lengthAdjust="spacingAndGlyphs" style="stroke-width:0.6">0</text>
<line x1="498.00" y1="1136.38" x2="500.80" y2="1136.38" stroke="#000" stroke-width="1.2"/>
<text x="500.75" y="1140.38" font-size="10.76" font-weight="normal" textLength="8.37" lengthAdjust="spacingAndGlyphs" style="stroke-width:0.6">6</text>
<line x1="498.00" y1="1089.46" x2="500.80" y2="1089.46" stroke="#000" stroke-width="1.2"/>
<text x="500.53" y="1093.46" font-size="10.76" font-weight="normal" textLength="14.34" lengthAdjust="spacingAndGlyphs" style="stroke-width:0.6">12</text>
<line x1="498.00" y1="1042.54" x2="500.80" y2="1042.54" stroke="#000" stroke-width="1.2"/>
<text x="500.54" y="1046.54" font-size="10.76" font-weight="normal" textLength="14.20" lengthAdjust="spacingAndGlyphs" style="stroke-width:0.6">18</text>
<circle cx="302.00" cy="1178.00" r="3.1"/>
<circle cx="310.00" cy="1178.00" r="3.1"/>
<circle cx="318.70" cy="1178.00" r="3.1"/>
<line x1="295.00" y1="1178.00" x2="325.00" y2="1178.00" stroke="#000" stroke-width="1.3"/>
<circle cx="339.50" cy="1164.20" r="3.1"/>
<circle cx="348.20" cy="1171.20" r="3.1"/>
<circle cx="356.20" cy="1169.20" r="3.1"/>
<line x1="332.00" y1="1167.00" x2="363.20" y2="1167.00" stroke="#000" stroke-width="1.3"/>
<circle cx="385.70" cy="1147.50" r="3.1"/>
<circle cx="385.70" cy="1172.50" r="3.1"/>
<circle cx="394.50" cy="1168.00" r="3.1"/>
<line x1="370.00" y1="1161.70" x2="400.70" y2="1161.70" stroke="#000" stroke-width="1.3"/>
<circle cx="425.40" cy="1172.40" r="3.1"/>
<circle cx="434.20" cy="1181.00" r="3.1"/>
<circle cx="442.00" cy="1178.90" r="3.1"/>
<line x1="417.30" y1="1176.50" x2="448.50" y2="1176.50" stroke="#000" stroke-width="1.3"/>
<circle cx="475.00" cy="1061.20" r="3.1"/>
<circle cx="475.00" cy="1147.20" r="3.1"/>
<circle cx="475.00" cy="1163.20" r="3.1"/>
<line x1="458.80" y1="1123.00" x2="490.00" y2="1123.00" stroke="#000" stroke-width="1.3"/>
<text transform="translate(64.20,1193.00) scale(1.08,1) rotate(-45)" x="-20.74" y="0" font-size="10.50" font-weight="bold" textLength="21.00" lengthAdjust="spacingAndGlyphs">BFA</text>
<text transform="translate(95.00,1194.40) scale(1.08,1) rotate(-45)" x="-20.05" y="0" font-size="10.50" font-weight="bold" textLength="20.42" lengthAdjust="spacingAndGlyphs">LPS</text>
<text transform="translate(106.50,1200.20) scale(1.08,1) rotate(-45)" x="-17.01" y="0" font-size="10.50" font-weight="bold" textLength="17.50" lengthAdjust="spacingAndGlyphs">PIB</text>
<path d="M84.50 1213.30L89.30 1218.10M84.50 1218.10L89.30 1213.30" stroke="#000" stroke-width="1.5"/>
<text transform="translate(133.80,1193.40) scale(1.08,1) rotate(-45)" x="-21.52" y="0" font-size="10.50" font-weight="bold" textLength="22.16" lengthAdjust="spacingAndGlyphs">CpG</text>
<text transform="translate(143.10,1201.50) scale(1.08,1) rotate(-45)" x="-17.01" y="0" font-size="10.50" font-weight="bold" textLength="17.50" lengthAdjust="spacingAndGlyphs">PIB</text>
<path d="M121.40 1213.10L126.20 1217.90M121.40 1217.90L126.20 1213.10" stroke="#000" stroke-width="1.5"/>
<text transform="translate(182.30,1195.00) scale(1.08,1) rotate(-45)" x="-32.92" y="0" font-size="10.50" font-weight="bold" textLength="33.26" lengthAdjust="spacingAndGlyphs">CD40L</text>
<text transform="translate(186.20,1204.00) scale(1.08,1) rotate(-45)" x="-20.05" y="0" font-size="10.50" font-weight="bold" textLength="20.42" lengthAdjust="spacingAndGlyphs">LPS</text>
<path d="M163.30 1219.30L168.10 1224.10M163.30 1224.10L168.10 1219.30" stroke="#000" stroke-width="1.5"/>
<text transform="translate(226.20,1194.40) scale(1.08,1) rotate(-45)" x="-32.92" y="0" font-size="10.50" font-weight="bold" textLength="33.26" lengthAdjust="spacingAndGlyphs">CD40L</text>
<text transform="translate(231.50,1203.60) scale(1.08,1) rotate(-45)" x="-21.52" y="0" font-size="10.50" font-weight="bold" textLength="22.16" lengthAdjust="spacingAndGlyphs">CpG</text>
<path d="M205.60 1220.30L210.40 1225.10M205.60 1225.10L210.40 1220.30" stroke="#000" stroke-width="1.5"/>
<text transform="translate(314.20,1193.00) scale(1.08,1) rotate(-45)" x="-20.74" y="0" font-size="10.50" font-weight="bold" textLength="21.00" lengthAdjust="spacingAndGlyphs">BFA</text>
<text transform="translate(348.00,1194.40) scale(1.08,1) rotate(-45)" x="-20.05" y="0" font-size="10.50" font-weight="bold" textLength="20.42" lengthAdjust="spacingAndGlyphs">LPS</text>
<text transform="translate(359.50,1200.20) scale(1.08,1) rotate(-45)" x="-17.01" y="0" font-size="10.50" font-weight="bold" textLength="17.50" lengthAdjust="spacingAndGlyphs">PIB</text>
<path d="M337.50 1213.30L342.30 1218.10M337.50 1218.10L342.30 1213.30" stroke="#000" stroke-width="1.5"/>
<text transform="translate(386.80,1193.40) scale(1.08,1) rotate(-45)" x="-21.52" y="0" font-size="10.50" font-weight="bold" textLength="22.16" lengthAdjust="spacingAndGlyphs">CpG</text>
<text transform="translate(396.10,1201.50) scale(1.08,1) rotate(-45)" x="-17.01" y="0" font-size="10.50" font-weight="bold" textLength="17.50" lengthAdjust="spacingAndGlyphs">PIB</text>
<path d="M374.40 1213.10L379.20 1217.90M374.40 1217.90L379.20 1213.10" stroke="#000" stroke-width="1.5"/>
<text transform="translate(435.30,1195.00) scale(1.08,1) rotate(-45)" x="-32.92" y="0" font-size="10.50" font-weight="bold" textLength="33.26" lengthAdjust="spacingAndGlyphs">CD40L</text>
<text transform="translate(439.20,1204.00) scale(1.08,1) rotate(-45)" x="-20.05" y="0" font-size="10.50" font-weight="bold" textLength="20.42" lengthAdjust="spacingAndGlyphs">LPS</text>
<path d="M416.30 1219.30L421.10 1224.10M416.30 1224.10L421.10 1219.30" stroke="#000" stroke-width="1.5"/>
<text transform="translate(479.20,1194.40) scale(1.08,1) rotate(-45)" x="-32.92" y="0" font-size="10.50" font-weight="bold" textLength="33.26" lengthAdjust="spacingAndGlyphs">CD40L</text>
<text transform="translate(484.50,1203.60) scale(1.08,1) rotate(-45)" x="-21.52" y="0" font-size="10.50" font-weight="bold" textLength="22.16" lengthAdjust="spacingAndGlyphs">CpG</text>
<path d="M458.60 1220.30L463.40 1225.10M458.60 1225.10L463.40 1220.30" stroke="#000" stroke-width="1.5"/></svg>
</body></html>
